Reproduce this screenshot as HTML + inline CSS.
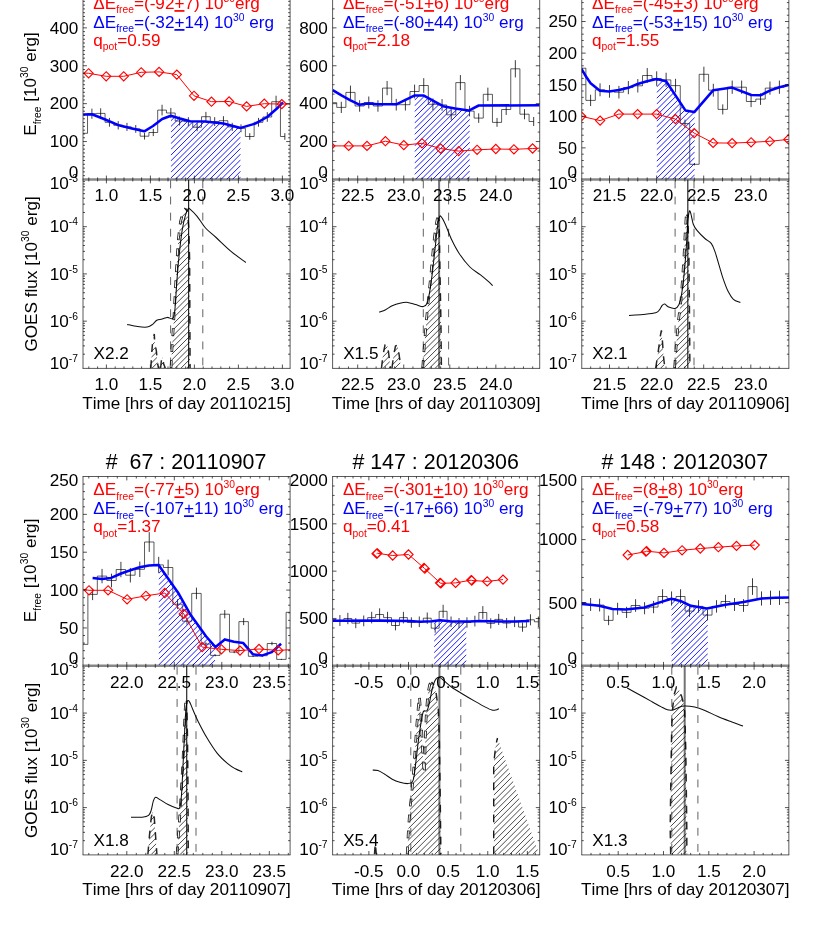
<!DOCTYPE html>
<html><head><meta charset="utf-8"><title>Free energy evolution</title>
<style>html,body{margin:0;padding:0;background:#fff}svg{display:block;will-change:transform}text{font-family:"Liberation Sans",sans-serif;font-kerning:none}</style>
</head><body>
<svg width="830" height="943" viewBox="0 0 830 943" font-family='"Liberation Sans", sans-serif'>
<rect width="830" height="943" fill="#fff"/>
<clipPath id="p1"><rect x="83" y="-10.05" width="207.1" height="189.5"/></clipPath>
<g clip-path="url(#p1)">
<path d="M83 133.3L83 133.3L87.52 133.3L87.52 113.7L96.28 113.7L96.28 113.4L105.06 113.4L105.06 122.3L113.83 122.3L113.83 125.3L122.59 125.3L122.59 126.9L131.37 126.9L131.37 128.9L140.13 128.9L140.13 136.2L148.91 136.2L148.91 132.5L157.68 132.5L157.68 110.1L166.44 110.1L166.44 113L175.21 113L175.21 121L183.99 121L183.99 121.6L192.75 121.6L192.75 127.2L201.52 127.2L201.52 116.7L210.3 116.7L210.3 121.6L219.06 121.6L219.06 120.7L227.83 120.7L227.83 126.9L236.61 126.9L236.61 128.3L245.38 128.3L245.38 136.5L254.14 136.5L254.14 122.3L262.91 122.3L262.91 117L271.69 117L271.69 101.7L280.45 101.7L280.45 136.5L284.84 136.5" fill="none" stroke="#000" stroke-width="0.8" stroke-opacity="0.8" stroke-linejoin="miter"/>
<path d="M91.9 108.64V118.76M100.67 108.31V118.49M109.44 117.9V126.7M118.21 121.13V129.47M126.98 122.85V130.95M135.75 125.01V132.79M144.52 132.87V139.53M153.29 128.88V136.12M162.06 104.76V115.44M170.83 107.88V118.12M179.6 116.5V125.5M188.37 117.15V126.05M197.14 123.18V131.22M205.91 111.87V121.53M214.68 117.15V126.05M223.45 116.18V125.22M232.22 122.85V130.95M240.99 124.36V132.24M249.76 133.19V139.81M258.53 117.9V126.7M267.3 112.19V121.81M276.07 95.71V107.69M284.84 133.19V139.81" fill="none" stroke="#000" stroke-width="0.9" stroke-opacity="0.85"/>
<clipPath id="c2"><polygon points="170.8,179.45 170.8,115.7 180,118.5 190,121.2 204.9,121.4 223.4,123.6 240.7,127.9 240.7,179.45"/></clipPath>
<path clip-path="url(#c2)" d="M170.8 115.2L240.7 45.3M170.8 120.92L240.7 51.02M170.8 126.64L240.7 56.74M170.8 132.36L240.7 62.46M170.8 138.08L240.7 68.18M170.8 143.8L240.7 73.9M170.8 149.52L240.7 79.62M170.8 155.24L240.7 85.34M170.8 160.96L240.7 91.06M170.8 166.68L240.7 96.78M170.8 172.4L240.7 102.5M170.8 178.12L240.7 108.22M170.8 183.84L240.7 113.94M170.8 189.56L240.7 119.66M170.8 195.28L240.7 125.38M170.8 201L240.7 131.1M170.8 206.72L240.7 136.82M170.8 212.44L240.7 142.54M170.8 218.16L240.7 148.26M170.8 223.88L240.7 153.98M170.8 229.6L240.7 159.7M170.8 235.32L240.7 165.42M170.8 241.04L240.7 171.14M170.8 246.76L240.7 176.86M170.8 252.48L240.7 182.58" stroke="#0000ff" stroke-width="0.95" stroke-opacity="0.95" fill="none"/>
<path d="M83.3 114.6L91.9 114.3L104 119L117.8 124.9L131 128.2L144.3 131.3L153 126L162.2 119L170.8 115.7L180 118.5L190 121.2L204.9 121.4L223.4 123.6L240.7 127.9L255.2 123.6L267.2 117L277.8 107.7L283.1 102.4" fill="none" stroke="#0000ff" stroke-width="2.55" stroke-linejoin="round" stroke-linecap="butt"/>
<path d="M83.3 73L88.6 73.3L106.2 76.3L123.7 76.3L141.2 72.3L159.1 71.9L176.8 74.6L194 95.8L211.5 101.7L229.1 101.5L246.6 106.4L264.3 103.7L281.8 104.1L290.3 104.1" fill="none" stroke="#ff0000" stroke-width="1.0"/>
<path d="M84 73.3L88.6 68.7L93.2 73.3L88.6 77.9ZM101.6 76.3L106.2 71.7L110.8 76.3L106.2 80.9ZM119.1 76.3L123.7 71.7L128.3 76.3L123.7 80.9ZM136.6 72.3L141.2 67.7L145.8 72.3L141.2 76.9ZM154.5 71.9L159.1 67.3L163.7 71.9L159.1 76.5ZM172.2 74.6L176.8 70L181.4 74.6L176.8 79.2ZM189.4 95.8L194 91.2L198.6 95.8L194 100.4ZM206.9 101.7L211.5 97.1L216.1 101.7L211.5 106.3ZM224.5 101.5L229.1 96.9L233.7 101.5L229.1 106.1ZM242 106.4L246.6 101.8L251.2 106.4L246.6 111ZM259.7 103.7L264.3 99.1L268.9 103.7L264.3 108.3ZM277.2 104.1L281.8 99.5L286.4 104.1L281.8 108.7Z" fill="none" stroke="#ff0000" stroke-width="1.15"/>
</g>
<clipPath id="p3"><rect x="83" y="179.45" width="207.1" height="188.95"/></clipPath>
<g clip-path="url(#p3)">
<clipPath id="c4"><polygon points="171,368 172.2,344.6 173.6,323.4 174.7,302.2 175.8,281 177,259.8 178.4,238.6 180.5,221.6 183.4,211 185.6,208.4 187.5,212.2 188.8,228 189.6,259.8 190.1,368"/></clipPath>
<path clip-path="url(#c4)" d="M171 204.7L190.1 185.6M171 210.48L190.1 191.38M171 216.26L190.1 197.16M171 222.04L190.1 202.94M171 227.82L190.1 208.72M171 233.6L190.1 214.5M171 239.38L190.1 220.28M171 245.16L190.1 226.06M171 250.94L190.1 231.84M171 256.72L190.1 237.62M171 262.5L190.1 243.4M171 268.28L190.1 249.18M171 274.06L190.1 254.96M171 279.84L190.1 260.74M171 285.62L190.1 266.52M171 291.4L190.1 272.3M171 297.18L190.1 278.08M171 302.96L190.1 283.86M171 308.74L190.1 289.64M171 314.52L190.1 295.42M171 320.3L190.1 301.2M171 326.08L190.1 306.98M171 331.86L190.1 312.76M171 337.64L190.1 318.54M171 343.42L190.1 324.32M171 349.2L190.1 330.1M171 354.98L190.1 335.88M171 360.76L190.1 341.66M171 366.54L190.1 347.44M171 372.32L190.1 353.22M171 378.1L190.1 359M171 383.88L190.1 364.78M171 389.66L190.1 370.56" stroke="#000" stroke-width="0.8" stroke-opacity="0.9" fill="none"/>
<path d="M171 368L172.2 344.6L173.6 323.4L174.7 302.2L175.8 281L177 259.8L178.4 238.6L180.5 221.6L183.4 211L185.6 208.4" fill="none" stroke="#000" stroke-width="2.7" stroke-opacity="0.88" stroke-dasharray="7.8 8.2"/>
<path d="M171 368L172.2 344.6L173.6 323.4L174.7 302.2L175.8 281L177 259.8L178.4 238.6L180.5 221.6L183.4 211L185.6 208.4" fill="none" stroke="#fff" stroke-width="1.0" stroke-dasharray="6.2 9.8" stroke-dashoffset="-0.8"/>
<path d="M185.6 208.4L187.5 212.2L188.8 228L189.6 259.8L190.1 368" fill="none" stroke="#000" stroke-width="1.5" stroke-opacity="0.85" stroke-dasharray="7.8 8.2" stroke-dashoffset="4"/>
<clipPath id="c5"><polygon points="150.9,368 151.5,355.2 152.6,342.5 154.3,334 154.7,342.5 156.4,351 157.2,361.5 158.5,368"/></clipPath>
<path clip-path="url(#c5)" d="M150.9 328.84L158.5 321.24M150.9 334.62L158.5 327.02M150.9 340.4L158.5 332.8M150.9 346.18L158.5 338.58M150.9 351.96L158.5 344.36M150.9 357.74L158.5 350.14M150.9 363.52L158.5 355.92M150.9 369.3L158.5 361.7M150.9 375.08L158.5 367.48M150.9 380.86L158.5 373.26" stroke="#000" stroke-width="0.8" stroke-opacity="0.9" fill="none"/>
<path d="M150.9 368L151.5 355.2L152.6 342.5L154.3 334L154.7 342.5L156.4 351L157.2 361.5L158.5 368" fill="none" stroke="#000" stroke-width="1.5" stroke-opacity="0.85" stroke-dasharray="7.8 8.2"/>
<clipPath id="c6"><polygon points="160.6,368 161.5,359.4 162.7,357.3 163.6,363.7 165.3,368"/></clipPath>
<path clip-path="url(#c6)" d="M160.6 353.82L165.3 349.12M160.6 359.6L165.3 354.9M160.6 365.38L165.3 360.68M160.6 371.16L165.3 366.46M160.6 376.94L165.3 372.24" stroke="#000" stroke-width="0.8" stroke-opacity="0.9" fill="none"/>
<path d="M160.6 368L161.5 359.4L162.7 357.3L163.6 363.7L165.3 368" fill="none" stroke="#000" stroke-width="1.5" stroke-opacity="0.85" stroke-dasharray="7.8 8.2"/>
<path d="M170.6 180.45V368.4" stroke="#000" stroke-opacity="0.62" stroke-width="1.0" stroke-dasharray="7.9 8.2" fill="none"/>
<path d="M202.8 180.45V368.4" stroke="#000" stroke-opacity="0.62" stroke-width="1.0" stroke-dasharray="7.9 8.2" fill="none"/>
<path d="M188.6 179.45V368.4" stroke="#000" stroke-opacity="0.85" stroke-width="1.2" fill="none"/>
<path d="M127.1 324.4C128.87 324.77 134.33 326.17 137.7 326.6C141.07 327.03 144.82 327.37 147.3 327C149.78 326.63 151.02 325.53 152.6 324.4C154.18 323.27 155.22 321.08 156.8 320.2C158.38 319.32 160.33 319.57 162.1 319.1C163.87 318.63 165.63 317.5 167.4 317.4C169.17 317.3 171.47 319.62 172.7 318.5C173.93 317.38 174.1 316.95 174.8 310.7C175.5 304.45 176.18 290.2 176.9 281C177.62 271.8 178.22 263.98 179.1 255.5C179.98 247.02 181.15 236.8 182.2 230.1C183.25 223.4 184.4 218.83 185.4 215.3C186.4 211.77 187.48 209.97 188.2 208.9C188.92 207.83 188.22 207.67 189.7 208.9C191.18 210.13 194.47 213.12 197.1 216.3C199.73 219.48 202.33 224.47 205.5 228C208.67 231.53 211.85 233.62 216.1 237.5C220.35 241.38 226.05 247.13 231 251.3C235.95 255.47 243.33 260.63 245.8 262.5" fill="none" stroke="#000" stroke-width="1.05" stroke-opacity="0.95"/>
</g>
<path d="M83 -10.05V179.45M290.1 -10.05V179.45M82.6 -10.05H290.5" fill="none" stroke="#000" stroke-width="0.9" stroke-opacity="0.72"/>
<path d="M106.4 179.45v-3.9M106.4 -10.05v3.9M150.4 179.45v-3.9M150.4 -10.05v3.9M194.4 179.45v-3.9M194.4 -10.05v3.9M238.4 179.45v-3.9M238.4 -10.05v3.9M282.4 179.45v-3.9M282.4 -10.05v3.9M88.8 179.45v-2M88.8 -10.05v2M97.6 179.45v-2M97.6 -10.05v2M115.2 179.45v-2M115.2 -10.05v2M124 179.45v-2M124 -10.05v2M132.8 179.45v-2M132.8 -10.05v2M141.6 179.45v-2M141.6 -10.05v2M159.2 179.45v-2M159.2 -10.05v2M168 179.45v-2M168 -10.05v2M176.8 179.45v-2M176.8 -10.05v2M185.6 179.45v-2M185.6 -10.05v2M203.2 179.45v-2M203.2 -10.05v2M212 179.45v-2M212 -10.05v2M220.8 179.45v-2M220.8 -10.05v2M229.6 179.45v-2M229.6 -10.05v2M247.2 179.45v-2M247.2 -10.05v2M256 179.45v-2M256 -10.05v2M264.8 179.45v-2M264.8 -10.05v2M273.6 179.45v-2M273.6 -10.05v2M83 141.55h3.9M290.1 141.55h-3.9M83 103.65h3.9M290.1 103.65h-3.9M83 65.75h3.9M290.1 65.75h-3.9M83 27.85h3.9M290.1 27.85h-3.9M83 175.66h2M290.1 175.66h-2M83 171.87h2M290.1 171.87h-2M83 168.08h2M290.1 168.08h-2M83 164.29h2M290.1 164.29h-2M83 160.5h2M290.1 160.5h-2M83 156.71h2M290.1 156.71h-2M83 152.92h2M290.1 152.92h-2M83 149.13h2M290.1 149.13h-2M83 145.34h2M290.1 145.34h-2M83 137.76h2M290.1 137.76h-2M83 133.97h2M290.1 133.97h-2M83 130.18h2M290.1 130.18h-2M83 126.39h2M290.1 126.39h-2M83 122.6h2M290.1 122.6h-2M83 118.81h2M290.1 118.81h-2M83 115.02h2M290.1 115.02h-2M83 111.23h2M290.1 111.23h-2M83 107.44h2M290.1 107.44h-2M83 99.86h2M290.1 99.86h-2M83 96.07h2M290.1 96.07h-2M83 92.28h2M290.1 92.28h-2M83 88.49h2M290.1 88.49h-2M83 84.7h2M290.1 84.7h-2M83 80.91h2M290.1 80.91h-2M83 77.12h2M290.1 77.12h-2M83 73.33h2M290.1 73.33h-2M83 69.54h2M290.1 69.54h-2M83 61.96h2M290.1 61.96h-2M83 58.17h2M290.1 58.17h-2M83 54.38h2M290.1 54.38h-2M83 50.59h2M290.1 50.59h-2M83 46.8h2M290.1 46.8h-2M83 43.01h2M290.1 43.01h-2M83 39.22h2M290.1 39.22h-2M83 35.43h2M290.1 35.43h-2M83 31.64h2M290.1 31.64h-2M83 24.06h2M290.1 24.06h-2M83 20.27h2M290.1 20.27h-2M83 16.48h2M290.1 16.48h-2M83 12.69h2M290.1 12.69h-2M83 8.9h2M290.1 8.9h-2M83 5.11h2M290.1 5.11h-2M83 1.32h2M290.1 1.32h-2M83 -2.47h2M290.1 -2.47h-2M83 -6.26h2M290.1 -6.26h-2" stroke="#000" stroke-width="0.85" stroke-opacity="0.8" fill="none"/>
<path d="M83 179.45V368.4M290.1 179.45V368.4M82.6 368.4H290.5" fill="none" stroke="#000" stroke-width="0.9" stroke-opacity="0.72"/>
<path d="M106.4 368.4v-3.9M106.4 179.45v3.9M150.4 368.4v-3.9M150.4 179.45v3.9M194.4 368.4v-3.9M194.4 179.45v3.9M238.4 368.4v-3.9M238.4 179.45v3.9M282.4 368.4v-3.9M282.4 179.45v3.9M88.8 368.4v-2M88.8 179.45v2M97.6 368.4v-2M97.6 179.45v2M115.2 368.4v-2M115.2 179.45v2M124 368.4v-2M124 179.45v2M132.8 368.4v-2M132.8 179.45v2M141.6 368.4v-2M141.6 179.45v2M159.2 368.4v-2M159.2 179.45v2M168 368.4v-2M168 179.45v2M176.8 368.4v-2M176.8 179.45v2M185.6 368.4v-2M185.6 179.45v2M203.2 368.4v-2M203.2 179.45v2M212 368.4v-2M212 179.45v2M220.8 368.4v-2M220.8 179.45v2M229.6 368.4v-2M229.6 179.45v2M247.2 368.4v-2M247.2 179.45v2M256 368.4v-2M256 179.45v2M264.8 368.4v-2M264.8 179.45v2M273.6 368.4v-2M273.6 179.45v2M83 226.69h3.9M290.1 226.69h-3.9M83 273.92h3.9M290.1 273.92h-3.9M83 321.16h3.9M290.1 321.16h-3.9M83 354.18h2M290.1 354.18h-2M83 345.86h2M290.1 345.86h-2M83 339.96h2M290.1 339.96h-2M83 335.38h2M290.1 335.38h-2M83 331.64h2M290.1 331.64h-2M83 328.48h2M290.1 328.48h-2M83 325.74h2M290.1 325.74h-2M83 323.32h2M290.1 323.32h-2M83 306.94h2M290.1 306.94h-2M83 298.62h2M290.1 298.62h-2M83 292.72h2M290.1 292.72h-2M83 288.14h2M290.1 288.14h-2M83 284.4h2M290.1 284.4h-2M83 281.24h2M290.1 281.24h-2M83 278.5h2M290.1 278.5h-2M83 276.09h2M290.1 276.09h-2M83 259.71h2M290.1 259.71h-2M83 251.39h2M290.1 251.39h-2M83 245.49h2M290.1 245.49h-2M83 240.91h2M290.1 240.91h-2M83 237.17h2M290.1 237.17h-2M83 234h2M290.1 234h-2M83 231.27h2M290.1 231.27h-2M83 228.85h2M290.1 228.85h-2M83 212.47h2M290.1 212.47h-2M83 204.15h2M290.1 204.15h-2M83 198.25h2M290.1 198.25h-2M83 193.67h2M290.1 193.67h-2M83 189.93h2M290.1 189.93h-2M83 186.77h2M290.1 186.77h-2M83 184.03h2M290.1 184.03h-2M83 181.61h2M290.1 181.61h-2" stroke="#000" stroke-width="0.85" stroke-opacity="0.8" fill="none"/>
<path d="M82.5 179.45H290.6" stroke="#000" stroke-opacity="0.47" stroke-width="2.5" fill="none"/>
<text x="106.4" y="201.45" font-size="17.15" text-anchor="middle" fill="#000" >1.0</text>
<text x="106.4" y="390.1" font-size="17.15" text-anchor="middle" fill="#000" >1.0</text>
<text x="150.4" y="201.45" font-size="17.15" text-anchor="middle" fill="#000" >1.5</text>
<text x="150.4" y="390.1" font-size="17.15" text-anchor="middle" fill="#000" >1.5</text>
<text x="194.4" y="201.45" font-size="17.15" text-anchor="middle" fill="#000" >2.0</text>
<text x="194.4" y="390.1" font-size="17.15" text-anchor="middle" fill="#000" >2.0</text>
<text x="238.4" y="201.45" font-size="17.15" text-anchor="middle" fill="#000" >2.5</text>
<text x="238.4" y="390.1" font-size="17.15" text-anchor="middle" fill="#000" >2.5</text>
<text x="282.4" y="201.45" font-size="17.15" text-anchor="middle" fill="#000" >3.0</text>
<text x="282.4" y="390.1" font-size="17.15" text-anchor="middle" fill="#000" >3.0</text>
<text x="186.55" y="408.7" font-size="17.15" text-anchor="middle" fill="#000" >Time [hrs of day 20110215]</text>
<text x="78.3" y="178.05" font-size="17.15" text-anchor="end" fill="#000" >0</text>
<text x="78.3" y="147.35" font-size="17.15" text-anchor="end" fill="#000" >100</text>
<text x="78.3" y="109.45" font-size="17.15" text-anchor="end" fill="#000" >200</text>
<text x="78.3" y="71.55" font-size="17.15" text-anchor="end" fill="#000" >300</text>
<text x="78.3" y="33.65" font-size="17.15" text-anchor="end" fill="#000" >400</text>
<text x="78.3" y="0.3" font-size="17.15" text-anchor="end" fill="#000" >500</text>
<text x="78" y="188.85" font-size="17.15" text-anchor="end">10<tspan dy="-7.0" font-size="10.3">-3</tspan></text>
<text x="78" y="232.29" font-size="17.15" text-anchor="end">10<tspan dy="-7.0" font-size="10.3">-4</tspan></text>
<text x="78" y="279.52" font-size="17.15" text-anchor="end">10<tspan dy="-7.0" font-size="10.3">-5</tspan></text>
<text x="78" y="326.76" font-size="17.15" text-anchor="end">10<tspan dy="-7.0" font-size="10.3">-6</tspan></text>
<text x="78" y="368.7" font-size="17.15" text-anchor="end">10<tspan dy="-7.0" font-size="10.3">-7</tspan></text>
<text x="93.3" y="9.05" font-size="17.15" text-anchor="start" fill="#ff0000" >&#916;E<tspan dy="4.3" font-size="10.3">free</tspan><tspan dy="-4.3" font-size="1">&#8203;</tspan>=(-92<tspan text-decoration="underline">+</tspan>7) 10<tspan dy="-7.3" font-size="10.3">30</tspan><tspan dy="7.3" font-size="1">&#8203;</tspan>erg</text>
<text x="93.3" y="28.05" font-size="17.15" text-anchor="start" fill="#0000ff" >&#916;E<tspan dy="4.3" font-size="10.3">free</tspan><tspan dy="-4.3" font-size="1">&#8203;</tspan>=(-32<tspan text-decoration="underline">+</tspan>14) 10<tspan dy="-7.3" font-size="10.3">30</tspan><tspan dy="7.3" font-size="1">&#8203;</tspan> erg</text>
<text x="93.3" y="46.05" font-size="17.15" text-anchor="start" fill="#ff0000" >q<tspan dy="4.3" font-size="10.3">pot</tspan><tspan dy="-4.3" font-size="1">&#8203;</tspan>=0.59</text>
<text x="93.6" y="359.1" font-size="17.15" text-anchor="start" fill="#000" >X2.2</text>
<text transform="translate(36.3 83.9) rotate(-90)" font-size="17.15" text-anchor="middle">E<tspan dy="4.6" font-size="10.3">free</tspan><tspan dy="-4.6"> [10</tspan><tspan dy="-8.5" font-size="10.3">30</tspan><tspan dy="8.5"> erg]</tspan></text>
<text transform="translate(37.4 273.92) rotate(-90)" font-size="17.15" text-anchor="middle">GOES flux [10<tspan dy="-8.5" font-size="10.3">30</tspan><tspan dy="8.5"> erg]</tspan></text>
<clipPath id="p7"><rect x="332.6" y="-10.05" width="207.1" height="189.5"/></clipPath>
<g clip-path="url(#p7)">
<path d="M332.6 102.7L332.6 102.7L336.72 102.7L336.72 107.4L345.88 107.4L345.88 92.4L355.04 92.4L355.04 106L364.2 106L364.2 102.5L373.36 102.5L373.36 106L382.52 106L382.52 88.1L391.68 88.1L391.68 104.7L400.84 104.7L400.84 104.7L410 104.7L410 91.5L419.16 91.5L419.16 85.5L428.32 85.5L428.32 104.3L437.48 104.3L437.48 104.9L446.64 104.9L446.64 114.8L455.8 114.8L455.8 82.6L464.96 82.6L464.96 111.1L474.12 111.1L474.12 118.1L483.28 118.1L483.28 94.3L492.44 94.3L492.44 122.4L501.6 122.4L501.6 109.5L510.76 109.5L510.76 68.8L519.92 68.8L519.92 114.2L529.08 114.2L529.08 121.5L533.66 121.5" fill="none" stroke="#000" stroke-width="0.8" stroke-opacity="0.8" stroke-linejoin="miter"/>
<path d="M341.3 101.78V113.02M350.46 85.61V99.19M359.62 100.27V111.73M368.78 96.5V108.5M377.94 100.27V111.73M387.1 80.97V95.23M396.26 98.87V110.53M405.42 98.87V110.53M414.58 84.64V98.36M423.74 78.17V92.83M432.9 98.44V110.16M442.06 99.09V110.71M451.22 109.76V119.84M460.38 75.05V90.15M469.54 105.77V116.43M478.7 113.31V122.89M487.86 87.66V100.94M497.02 117.95V126.85M506.18 104.04V114.96M515.34 60.17V77.43M524.5 109.11V119.29M533.66 116.98V126.02" fill="none" stroke="#000" stroke-width="0.9" stroke-opacity="0.85"/>
<clipPath id="c8"><polygon points="414.5,179.45 414.5,95.55 414.8,95.4 423.4,95.4 432,100.2 443,106.2 455,108.6 468.8,110.6 469.9,110.03 469.9,179.45"/></clipPath>
<path clip-path="url(#c8)" d="M414.5 94.58L469.9 39.18M414.5 100.3L469.9 44.9M414.5 106.02L469.9 50.62M414.5 111.74L469.9 56.34M414.5 117.46L469.9 62.06M414.5 123.18L469.9 67.78M414.5 128.9L469.9 73.5M414.5 134.62L469.9 79.22M414.5 140.34L469.9 84.94M414.5 146.06L469.9 90.66M414.5 151.78L469.9 96.38M414.5 157.5L469.9 102.1M414.5 163.22L469.9 107.82M414.5 168.94L469.9 113.54M414.5 174.66L469.9 119.26M414.5 180.38L469.9 124.98M414.5 186.1L469.9 130.7M414.5 191.82L469.9 136.42M414.5 197.54L469.9 142.14M414.5 203.26L469.9 147.86M414.5 208.98L469.9 153.58M414.5 214.7L469.9 159.3M414.5 220.42L469.9 165.02M414.5 226.14L469.9 170.74M414.5 231.86L469.9 176.46M414.5 237.58L469.9 182.18" stroke="#0000ff" stroke-width="0.95" stroke-opacity="0.95" fill="none"/>
<path d="M332.7 90.1L341.9 95.7L350 100.2L359.2 104.7L368.4 103.4L377.7 104.3L396.3 104.3L405 100.2L414.8 95.4L423.4 95.4L432 100.2L443 106.2L455 108.6L468.8 110.6L478.7 105.5L539.6 105.3" fill="none" stroke="#0000ff" stroke-width="2.55" stroke-linejoin="round" stroke-linecap="butt"/>
<path d="M330.3 145.9L348.7 145.9L367 145.9L385.4 141.2L403.8 145.1L422 143.3L440.6 148.5L458.7 151.1L477.1 149.8L495.8 149L513.9 149.3L532.6 148.5L539.5 148.2" fill="none" stroke="#ff0000" stroke-width="1.0"/>
<path d="M325.7 145.9L330.3 141.3L334.9 145.9L330.3 150.5ZM344.1 145.9L348.7 141.3L353.3 145.9L348.7 150.5ZM362.4 145.9L367 141.3L371.6 145.9L367 150.5ZM380.8 141.2L385.4 136.6L390 141.2L385.4 145.8ZM399.2 145.1L403.8 140.5L408.4 145.1L403.8 149.7ZM417.4 143.3L422 138.7L426.6 143.3L422 147.9ZM436 148.5L440.6 143.9L445.2 148.5L440.6 153.1ZM454.1 151.1L458.7 146.5L463.3 151.1L458.7 155.7ZM472.5 149.8L477.1 145.2L481.7 149.8L477.1 154.4ZM491.2 149L495.8 144.4L500.4 149L495.8 153.6ZM509.3 149.3L513.9 144.7L518.5 149.3L513.9 153.9ZM528 148.5L532.6 143.9L537.2 148.5L532.6 153.1Z" fill="none" stroke="#ff0000" stroke-width="1.15"/>
</g>
<clipPath id="p9"><rect x="332.6" y="179.45" width="207.1" height="188.95"/></clipPath>
<g clip-path="url(#p9)">
<clipPath id="c10"><polygon points="422.7,368 424.5,343.4 426.4,320.1 428.4,299.3 431,273.4 433.6,244.9 435.7,226.8 437.5,217.7 439.1,220.3 440.1,278.6 440.9,320.1 441.4,368"/></clipPath>
<path clip-path="url(#c10)" d="M422.7 213.1L441.4 194.4M422.7 218.88L441.4 200.18M422.7 224.66L441.4 205.96M422.7 230.44L441.4 211.74M422.7 236.22L441.4 217.52M422.7 242L441.4 223.3M422.7 247.78L441.4 229.08M422.7 253.56L441.4 234.86M422.7 259.34L441.4 240.64M422.7 265.12L441.4 246.42M422.7 270.9L441.4 252.2M422.7 276.68L441.4 257.98M422.7 282.46L441.4 263.76M422.7 288.24L441.4 269.54M422.7 294.02L441.4 275.32M422.7 299.8L441.4 281.1M422.7 305.58L441.4 286.88M422.7 311.36L441.4 292.66M422.7 317.14L441.4 298.44M422.7 322.92L441.4 304.22M422.7 328.7L441.4 310M422.7 334.48L441.4 315.78M422.7 340.26L441.4 321.56M422.7 346.04L441.4 327.34M422.7 351.82L441.4 333.12M422.7 357.6L441.4 338.9M422.7 363.38L441.4 344.68M422.7 369.16L441.4 350.46M422.7 374.94L441.4 356.24M422.7 380.72L441.4 362.02M422.7 386.5L441.4 367.8M422.7 392.28L441.4 373.58" stroke="#000" stroke-width="0.8" stroke-opacity="0.9" fill="none"/>
<path d="M422.7 368L424.5 343.4L426.4 320.1L428.4 299.3L431 273.4L433.6 244.9L435.7 226.8L437.5 217.7" fill="none" stroke="#000" stroke-width="2.7" stroke-opacity="0.88" stroke-dasharray="7.8 8.2"/>
<path d="M422.7 368L424.5 343.4L426.4 320.1L428.4 299.3L431 273.4L433.6 244.9L435.7 226.8L437.5 217.7" fill="none" stroke="#fff" stroke-width="1.0" stroke-dasharray="6.2 9.8" stroke-dashoffset="-0.8"/>
<path d="M437.5 217.7L439.1 220.3L440.1 278.6L440.9 320.1L441.4 368" fill="none" stroke="#000" stroke-width="1.5" stroke-opacity="0.85" stroke-dasharray="7.8 8.2" stroke-dashoffset="4"/>
<clipPath id="c11"><polygon points="381.5,368 383,355 385,345 387,344 388.5,352 390.5,368"/></clipPath>
<path clip-path="url(#c11)" d="M381.5 341L390.5 332M381.5 346.78L390.5 337.78M381.5 352.56L390.5 343.56M381.5 358.34L390.5 349.34M381.5 364.12L390.5 355.12M381.5 369.9L390.5 360.9M381.5 375.68L390.5 366.68M381.5 381.46L390.5 372.46" stroke="#000" stroke-width="0.8" stroke-opacity="0.9" fill="none"/>
<path d="M381.5 368L383 355L385 345L387 344L388.5 352L390.5 368" fill="none" stroke="#000" stroke-width="1.5" stroke-opacity="0.85" stroke-dasharray="7.8 8.2"/>
<clipPath id="c12"><polygon points="392,368 393.5,356 395.5,346 397.5,345 399,354 401,368"/></clipPath>
<path clip-path="url(#c12)" d="M392 342.06L401 333.06M392 347.84L401 338.84M392 353.62L401 344.62M392 359.4L401 350.4M392 365.18L401 356.18M392 370.96L401 361.96M392 376.74L401 367.74M392 382.52L401 373.52" stroke="#000" stroke-width="0.8" stroke-opacity="0.9" fill="none"/>
<path d="M392 368L393.5 356L395.5 346L397.5 345L399 354L401 368" fill="none" stroke="#000" stroke-width="1.5" stroke-opacity="0.85" stroke-dasharray="7.8 8.2"/>
<path d="M423.3 180.45V368.4" stroke="#000" stroke-opacity="0.62" stroke-width="1.0" stroke-dasharray="7.9 8.2" fill="none"/>
<path d="M448.6 180.45V368.4" stroke="#000" stroke-opacity="0.62" stroke-width="1.0" stroke-dasharray="7.9 8.2" fill="none"/>
<path d="M439.1 179.45V368.4" stroke="#000" stroke-opacity="0.55" stroke-width="2.0" fill="none"/>
<path d="M379.2 312.3C380.28 311.87 383.53 310.78 385.7 309.7C387.87 308.62 389.83 306.88 392.2 305.8C394.57 304.72 397.32 303.77 399.9 303.2C402.48 302.63 405.1 302.18 407.7 302.4C410.3 302.62 412.9 303.8 415.5 304.5C418.1 305.2 421.37 306.82 423.3 306.6C425.23 306.38 426.03 305.7 427.1 303.2C428.17 300.7 428.83 296.57 429.7 291.6C430.57 286.63 431.43 280.32 432.3 273.4C433.17 266.48 434.03 257.87 434.9 250.1C435.77 242.33 436.77 232.2 437.5 226.8C438.23 221.4 438.73 219.43 439.3 217.7C439.87 215.97 439.9 215.32 440.9 216.4C441.9 217.48 443.5 220.3 445.3 224.2C447.1 228.1 449.33 234.83 451.7 239.8C454.07 244.77 456.47 249.47 459.5 254C462.53 258.53 466.45 263.55 469.9 267C473.35 270.45 477.18 272.33 480.2 274.7C483.22 277.07 485.92 279.38 488 281.2C490.08 283.02 491.92 284.87 492.7 285.6" fill="none" stroke="#000" stroke-width="1.05" stroke-opacity="0.95"/>
</g>
<path d="M332.6 -10.05V179.45M539.7 -10.05V179.45M332.2 -10.05H540.1" fill="none" stroke="#000" stroke-width="0.9" stroke-opacity="0.72"/>
<path d="M357.7 179.45v-3.9M357.7 -10.05v3.9M403.75 179.45v-3.9M403.75 -10.05v3.9M449.8 179.45v-3.9M449.8 -10.05v3.9M495.85 179.45v-3.9M495.85 -10.05v3.9M339.28 179.45v-2M339.28 -10.05v2M348.49 179.45v-2M348.49 -10.05v2M366.91 179.45v-2M366.91 -10.05v2M376.12 179.45v-2M376.12 -10.05v2M385.33 179.45v-2M385.33 -10.05v2M394.54 179.45v-2M394.54 -10.05v2M412.96 179.45v-2M412.96 -10.05v2M422.17 179.45v-2M422.17 -10.05v2M431.38 179.45v-2M431.38 -10.05v2M440.59 179.45v-2M440.59 -10.05v2M459.01 179.45v-2M459.01 -10.05v2M468.22 179.45v-2M468.22 -10.05v2M477.43 179.45v-2M477.43 -10.05v2M486.64 179.45v-2M486.64 -10.05v2M505.06 179.45v-2M505.06 -10.05v2M514.27 179.45v-2M514.27 -10.05v2M523.48 179.45v-2M523.48 -10.05v2M532.69 179.45v-2M532.69 -10.05v2M332.6 141.55h3.9M539.7 141.55h-3.9M332.6 103.65h3.9M539.7 103.65h-3.9M332.6 65.75h3.9M539.7 65.75h-3.9M332.6 27.85h3.9M539.7 27.85h-3.9M332.6 169.97h2M539.7 169.97h-2M332.6 160.5h2M539.7 160.5h-2M332.6 151.02h2M539.7 151.02h-2M332.6 132.07h2M539.7 132.07h-2M332.6 122.6h2M539.7 122.6h-2M332.6 113.12h2M539.7 113.12h-2M332.6 94.17h2M539.7 94.17h-2M332.6 84.7h2M539.7 84.7h-2M332.6 75.22h2M539.7 75.22h-2M332.6 56.27h2M539.7 56.27h-2M332.6 46.8h2M539.7 46.8h-2M332.6 37.32h2M539.7 37.32h-2M332.6 18.38h2M539.7 18.38h-2M332.6 8.9h2M539.7 8.9h-2M332.6 -0.58h2M539.7 -0.58h-2" stroke="#000" stroke-width="0.85" stroke-opacity="0.8" fill="none"/>
<path d="M332.6 179.45V368.4M539.7 179.45V368.4M332.2 368.4H540.1" fill="none" stroke="#000" stroke-width="0.9" stroke-opacity="0.72"/>
<path d="M357.7 368.4v-3.9M357.7 179.45v3.9M403.75 368.4v-3.9M403.75 179.45v3.9M449.8 368.4v-3.9M449.8 179.45v3.9M495.85 368.4v-3.9M495.85 179.45v3.9M339.28 368.4v-2M339.28 179.45v2M348.49 368.4v-2M348.49 179.45v2M366.91 368.4v-2M366.91 179.45v2M376.12 368.4v-2M376.12 179.45v2M385.33 368.4v-2M385.33 179.45v2M394.54 368.4v-2M394.54 179.45v2M412.96 368.4v-2M412.96 179.45v2M422.17 368.4v-2M422.17 179.45v2M431.38 368.4v-2M431.38 179.45v2M440.59 368.4v-2M440.59 179.45v2M459.01 368.4v-2M459.01 179.45v2M468.22 368.4v-2M468.22 179.45v2M477.43 368.4v-2M477.43 179.45v2M486.64 368.4v-2M486.64 179.45v2M505.06 368.4v-2M505.06 179.45v2M514.27 368.4v-2M514.27 179.45v2M523.48 368.4v-2M523.48 179.45v2M532.69 368.4v-2M532.69 179.45v2M332.6 226.69h3.9M539.7 226.69h-3.9M332.6 273.92h3.9M539.7 273.92h-3.9M332.6 321.16h3.9M539.7 321.16h-3.9M332.6 354.18h2M539.7 354.18h-2M332.6 345.86h2M539.7 345.86h-2M332.6 339.96h2M539.7 339.96h-2M332.6 335.38h2M539.7 335.38h-2M332.6 331.64h2M539.7 331.64h-2M332.6 328.48h2M539.7 328.48h-2M332.6 325.74h2M539.7 325.74h-2M332.6 323.32h2M539.7 323.32h-2M332.6 306.94h2M539.7 306.94h-2M332.6 298.62h2M539.7 298.62h-2M332.6 292.72h2M539.7 292.72h-2M332.6 288.14h2M539.7 288.14h-2M332.6 284.4h2M539.7 284.4h-2M332.6 281.24h2M539.7 281.24h-2M332.6 278.5h2M539.7 278.5h-2M332.6 276.09h2M539.7 276.09h-2M332.6 259.71h2M539.7 259.71h-2M332.6 251.39h2M539.7 251.39h-2M332.6 245.49h2M539.7 245.49h-2M332.6 240.91h2M539.7 240.91h-2M332.6 237.17h2M539.7 237.17h-2M332.6 234h2M539.7 234h-2M332.6 231.27h2M539.7 231.27h-2M332.6 228.85h2M539.7 228.85h-2M332.6 212.47h2M539.7 212.47h-2M332.6 204.15h2M539.7 204.15h-2M332.6 198.25h2M539.7 198.25h-2M332.6 193.67h2M539.7 193.67h-2M332.6 189.93h2M539.7 189.93h-2M332.6 186.77h2M539.7 186.77h-2M332.6 184.03h2M539.7 184.03h-2M332.6 181.61h2M539.7 181.61h-2" stroke="#000" stroke-width="0.85" stroke-opacity="0.8" fill="none"/>
<path d="M332.1 179.45H540.2" stroke="#000" stroke-opacity="0.47" stroke-width="2.5" fill="none"/>
<text x="357.7" y="201.45" font-size="17.15" text-anchor="middle" fill="#000" >22.5</text>
<text x="357.7" y="390.1" font-size="17.15" text-anchor="middle" fill="#000" >22.5</text>
<text x="403.75" y="201.45" font-size="17.15" text-anchor="middle" fill="#000" >23.0</text>
<text x="403.75" y="390.1" font-size="17.15" text-anchor="middle" fill="#000" >23.0</text>
<text x="449.8" y="201.45" font-size="17.15" text-anchor="middle" fill="#000" >23.5</text>
<text x="449.8" y="390.1" font-size="17.15" text-anchor="middle" fill="#000" >23.5</text>
<text x="495.85" y="201.45" font-size="17.15" text-anchor="middle" fill="#000" >24.0</text>
<text x="495.85" y="390.1" font-size="17.15" text-anchor="middle" fill="#000" >24.0</text>
<text x="436.15" y="408.7" font-size="17.15" text-anchor="middle" fill="#000" >Time [hrs of day 20110309]</text>
<text x="327.9" y="178.05" font-size="17.15" text-anchor="end" fill="#000" >0</text>
<text x="327.9" y="147.35" font-size="17.15" text-anchor="end" fill="#000" >200</text>
<text x="327.9" y="109.45" font-size="17.15" text-anchor="end" fill="#000" >400</text>
<text x="327.9" y="71.55" font-size="17.15" text-anchor="end" fill="#000" >600</text>
<text x="327.9" y="33.65" font-size="17.15" text-anchor="end" fill="#000" >800</text>
<text x="327.9" y="0.3" font-size="17.15" text-anchor="end" fill="#000" >1000</text>
<text x="327.6" y="188.85" font-size="17.15" text-anchor="end">10<tspan dy="-7.0" font-size="10.3">-3</tspan></text>
<text x="327.6" y="232.29" font-size="17.15" text-anchor="end">10<tspan dy="-7.0" font-size="10.3">-4</tspan></text>
<text x="327.6" y="279.52" font-size="17.15" text-anchor="end">10<tspan dy="-7.0" font-size="10.3">-5</tspan></text>
<text x="327.6" y="326.76" font-size="17.15" text-anchor="end">10<tspan dy="-7.0" font-size="10.3">-6</tspan></text>
<text x="327.6" y="368.7" font-size="17.15" text-anchor="end">10<tspan dy="-7.0" font-size="10.3">-7</tspan></text>
<text x="342.9" y="9.05" font-size="17.15" text-anchor="start" fill="#ff0000" >&#916;E<tspan dy="4.3" font-size="10.3">free</tspan><tspan dy="-4.3" font-size="1">&#8203;</tspan>=(-51<tspan text-decoration="underline">+</tspan>6) 10<tspan dy="-7.3" font-size="10.3">30</tspan><tspan dy="7.3" font-size="1">&#8203;</tspan>erg</text>
<text x="342.9" y="28.05" font-size="17.15" text-anchor="start" fill="#0000ff" >&#916;E<tspan dy="4.3" font-size="10.3">free</tspan><tspan dy="-4.3" font-size="1">&#8203;</tspan>=(-80<tspan text-decoration="underline">+</tspan>44) 10<tspan dy="-7.3" font-size="10.3">30</tspan><tspan dy="7.3" font-size="1">&#8203;</tspan> erg</text>
<text x="342.9" y="46.05" font-size="17.15" text-anchor="start" fill="#ff0000" >q<tspan dy="4.3" font-size="10.3">pot</tspan><tspan dy="-4.3" font-size="1">&#8203;</tspan>=2.18</text>
<text x="343.2" y="359.1" font-size="17.15" text-anchor="start" fill="#000" >X1.5</text>
<clipPath id="p13"><rect x="581.75" y="-10.05" width="207.1" height="189.5"/></clipPath>
<g clip-path="url(#p13)">
<path d="M581.75 68.2L581.75 68.2L585.88 68.2L585.88 100.4L595.32 100.4L595.32 89.8L604.76 89.8L604.76 91.4L614.2 91.4L614.2 92.2L623.64 92.2L623.64 87.6L633.08 87.6L633.08 85.8L642.52 85.8L642.52 75.5L651.96 75.5L651.96 78.6L661.4 78.6L661.4 79.9L670.84 79.9L670.84 85.6L680.28 85.6L680.28 123.6L689.72 123.6L689.72 164.3L699.16 164.3L699.16 74.3L708.6 74.3L708.6 90.2L718.04 90.2L718.04 109.4L727.48 109.4L727.48 87.2L736.92 87.2L736.92 87.2L746.36 87.2L746.36 101.5L755.8 101.5L755.8 99.1L765.24 99.1L765.24 88.1L774.68 88.1L774.68 87.2L784.12 87.2L784.12 85.5L788.85 85.5" fill="none" stroke="#000" stroke-width="0.8" stroke-opacity="0.8" stroke-linejoin="miter"/>
<path d="M590.6 94.71V106.09M600.04 83.35V96.25M609.48 85.06V97.74M618.92 85.92V98.48M628.36 80.99V94.21M637.8 79.06V92.54M647.24 68.02V82.98M656.68 71.34V85.86M666.12 72.73V87.07M675.56 78.84V92.36M685 119.58V127.62M694.44 163.21V165.39M703.88 66.73V81.87M713.32 83.77V96.63M722.76 104.36V114.44M732.2 80.56V93.84M741.64 80.56V93.84M751.08 95.89V107.11M760.52 93.31V104.89M769.96 81.52V94.68M779.4 80.56V93.84" fill="none" stroke="#000" stroke-width="0.9" stroke-opacity="0.85"/>
<clipPath id="c14"><polygon points="656.6,179.45 656.6,79 666.1,81.2 685.4,110.4 694.3,112.1 694.8,111.52 694.8,179.45"/></clipPath>
<path clip-path="url(#c14)" d="M656.6 75.56L694.8 37.36M656.6 81.28L694.8 43.08M656.6 87L694.8 48.8M656.6 92.72L694.8 54.52M656.6 98.44L694.8 60.24M656.6 104.16L694.8 65.96M656.6 109.88L694.8 71.68M656.6 115.6L694.8 77.4M656.6 121.32L694.8 83.12M656.6 127.04L694.8 88.84M656.6 132.76L694.8 94.56M656.6 138.48L694.8 100.28M656.6 144.2L694.8 106M656.6 149.92L694.8 111.72M656.6 155.64L694.8 117.44M656.6 161.36L694.8 123.16M656.6 167.08L694.8 128.88M656.6 172.8L694.8 134.6M656.6 178.52L694.8 140.32M656.6 184.24L694.8 146.04M656.6 189.96L694.8 151.76M656.6 195.68L694.8 157.48M656.6 201.4L694.8 163.2M656.6 207.12L694.8 168.92M656.6 212.84L694.8 174.64M656.6 218.56L694.8 180.36" stroke="#0000ff" stroke-width="0.95" stroke-opacity="0.95" fill="none"/>
<path d="M581.3 68.6L586 76.5L590.6 83.2L599.9 90.7L609.1 91.4L618.8 89.9L628.4 87.8L637.6 83.9L647 81.2L656.6 79L666.1 81.2L685.4 110.4L694.3 112.1L713.3 90.2L732 87.6L751.3 95L760.5 95.3L769.8 90.6L779.4 87.2L788.6 85" fill="none" stroke="#0000ff" stroke-width="2.55" stroke-linejoin="round" stroke-linecap="butt"/>
<path d="M581.3 116.3L600.1 120.6L618.8 114.1L637.6 114.1L656.6 114.1L675.4 119.1L694.2 133.1L713.1 142.9L732.1 143.1L751.1 142.3L769.8 141.3L788.4 139.4" fill="none" stroke="#ff0000" stroke-width="1.0"/>
<path d="M576.7 116.3L581.3 111.7L585.9 116.3L581.3 120.9ZM595.5 120.6L600.1 116L604.7 120.6L600.1 125.2ZM614.2 114.1L618.8 109.5L623.4 114.1L618.8 118.7ZM633 114.1L637.6 109.5L642.2 114.1L637.6 118.7ZM652 114.1L656.6 109.5L661.2 114.1L656.6 118.7ZM670.8 119.1L675.4 114.5L680 119.1L675.4 123.7ZM689.6 133.1L694.2 128.5L698.8 133.1L694.2 137.7ZM708.5 142.9L713.1 138.3L717.7 142.9L713.1 147.5ZM727.5 143.1L732.1 138.5L736.7 143.1L732.1 147.7ZM746.5 142.3L751.1 137.7L755.7 142.3L751.1 146.9ZM765.2 141.3L769.8 136.7L774.4 141.3L769.8 145.9ZM783.8 139.4L788.4 134.8L793 139.4L788.4 144Z" fill="none" stroke="#ff0000" stroke-width="1.15"/>
</g>
<clipPath id="p15"><rect x="581.75" y="179.45" width="207.1" height="188.95"/></clipPath>
<g clip-path="url(#p15)">
<clipPath id="c16"><polygon points="674.6,368 676.4,343.4 678.5,320.1 681.1,299.3 682.9,273.4 684.2,252.7 685.2,232 686.3,215.2 687.8,215.2 688.9,252.7 689.4,304.5 689.9,368"/></clipPath>
<path clip-path="url(#c16)" d="M674.6 209.74L689.9 194.44M674.6 215.52L689.9 200.22M674.6 221.3L689.9 206M674.6 227.08L689.9 211.78M674.6 232.86L689.9 217.56M674.6 238.64L689.9 223.34M674.6 244.42L689.9 229.12M674.6 250.2L689.9 234.9M674.6 255.98L689.9 240.68M674.6 261.76L689.9 246.46M674.6 267.54L689.9 252.24M674.6 273.32L689.9 258.02M674.6 279.1L689.9 263.8M674.6 284.88L689.9 269.58M674.6 290.66L689.9 275.36M674.6 296.44L689.9 281.14M674.6 302.22L689.9 286.92M674.6 308L689.9 292.7M674.6 313.78L689.9 298.48M674.6 319.56L689.9 304.26M674.6 325.34L689.9 310.04M674.6 331.12L689.9 315.82M674.6 336.9L689.9 321.6M674.6 342.68L689.9 327.38M674.6 348.46L689.9 333.16M674.6 354.24L689.9 338.94M674.6 360.02L689.9 344.72M674.6 365.8L689.9 350.5M674.6 371.58L689.9 356.28M674.6 377.36L689.9 362.06M674.6 383.14L689.9 367.84M674.6 388.92L689.9 373.62" stroke="#000" stroke-width="0.8" stroke-opacity="0.9" fill="none"/>
<path d="M674.6 368L676.4 343.4L678.5 320.1L681.1 299.3L682.9 273.4L684.2 252.7L685.2 232L686.3 215.2" fill="none" stroke="#000" stroke-width="2.7" stroke-opacity="0.88" stroke-dasharray="7.8 8.2"/>
<path d="M674.6 368L676.4 343.4L678.5 320.1L681.1 299.3L682.9 273.4L684.2 252.7L685.2 232L686.3 215.2" fill="none" stroke="#fff" stroke-width="1.0" stroke-dasharray="6.2 9.8" stroke-dashoffset="-0.8"/>
<path d="M686.3 215.2L687.8 215.2L688.9 252.7L689.4 304.5L689.9 368" fill="none" stroke="#000" stroke-width="1.5" stroke-opacity="0.85" stroke-dasharray="7.8 8.2" stroke-dashoffset="4"/>
<clipPath id="c17"><polygon points="655.7,368 658.3,351.1 660.4,335.6 661.4,330.4 662.4,340.8 663.5,356.3 664.8,368"/></clipPath>
<path clip-path="url(#c17)" d="M655.7 326.9L664.8 317.8M655.7 332.68L664.8 323.58M655.7 338.46L664.8 329.36M655.7 344.24L664.8 335.14M655.7 350.02L664.8 340.92M655.7 355.8L664.8 346.7M655.7 361.58L664.8 352.48M655.7 367.36L664.8 358.26M655.7 373.14L664.8 364.04M655.7 378.92L664.8 369.82" stroke="#000" stroke-width="0.8" stroke-opacity="0.9" fill="none"/>
<path d="M655.7 368L658.3 351.1L660.4 335.6L661.4 330.4L662.4 340.8L663.5 356.3L664.8 368" fill="none" stroke="#000" stroke-width="1.5" stroke-opacity="0.85" stroke-dasharray="7.8 8.2"/>
<path d="M675.1 180.45V368.4" stroke="#000" stroke-opacity="0.62" stroke-width="1.0" stroke-dasharray="7.9 8.2" fill="none"/>
<path d="M694 180.45V368.4" stroke="#000" stroke-opacity="0.62" stroke-width="1.0" stroke-dasharray="7.9 8.2" fill="none"/>
<path d="M687.8 179.45V368.4" stroke="#000" stroke-opacity="0.85" stroke-width="1.2" fill="none"/>
<path d="M629 315.4C631.3 315.23 638.35 314.83 642.8 314.4C647.25 313.97 652.9 313.58 655.7 312.8C658.5 312.02 658.52 310.95 659.6 309.7C660.68 308.45 661.33 306.25 662.2 305.3C663.07 304.35 663.72 303.7 664.8 304C665.88 304.3 666.98 306.37 668.7 307.1C670.42 307.83 673.38 308.83 675.1 308.4C676.82 307.97 677.92 306.87 679 304.5C680.08 302.13 680.73 299.38 681.6 294.2C682.47 289.02 683.42 281.18 684.2 273.4C684.98 265.62 685.7 256.13 686.3 247.5C686.9 238.87 687.28 227.63 687.8 221.6C688.32 215.57 688.88 212.58 689.4 211.3C689.92 210.02 690.25 211.75 690.9 213.9C691.55 216.05 692.25 221.4 693.3 224.2C694.35 227 695.27 228.32 697.2 230.7C699.13 233.08 702.53 236.35 704.9 238.5C707.27 240.65 709.67 241.23 711.4 243.6C713.13 245.97 714 249.02 715.3 252.7C716.6 256.38 717.9 261.38 719.2 265.7C720.5 270.02 721.6 274.28 723.1 278.6C724.6 282.92 726.48 288.15 728.2 291.6C729.92 295.05 731.37 297.5 733.4 299.3C735.43 301.1 739.23 301.88 740.4 302.4" fill="none" stroke="#000" stroke-width="1.05" stroke-opacity="0.95"/>
</g>
<path d="M581.75 -10.05V179.45M788.85 -10.05V179.45M581.35 -10.05H789.25" fill="none" stroke="#000" stroke-width="0.9" stroke-opacity="0.72"/>
<path d="M609.5 179.45v-3.9M609.5 -10.05v3.9M656.6 179.45v-3.9M656.6 -10.05v3.9M703.7 179.45v-3.9M703.7 -10.05v3.9M750.8 179.45v-3.9M750.8 -10.05v3.9M590.66 179.45v-2M590.66 -10.05v2M600.08 179.45v-2M600.08 -10.05v2M618.92 179.45v-2M618.92 -10.05v2M628.34 179.45v-2M628.34 -10.05v2M637.76 179.45v-2M637.76 -10.05v2M647.18 179.45v-2M647.18 -10.05v2M666.02 179.45v-2M666.02 -10.05v2M675.44 179.45v-2M675.44 -10.05v2M684.86 179.45v-2M684.86 -10.05v2M694.28 179.45v-2M694.28 -10.05v2M713.12 179.45v-2M713.12 -10.05v2M722.54 179.45v-2M722.54 -10.05v2M731.96 179.45v-2M731.96 -10.05v2M741.38 179.45v-2M741.38 -10.05v2M760.22 179.45v-2M760.22 -10.05v2M769.64 179.45v-2M769.64 -10.05v2M779.06 179.45v-2M779.06 -10.05v2M581.75 147.87h3.9M788.85 147.87h-3.9M581.75 116.28h3.9M788.85 116.28h-3.9M581.75 84.7h3.9M788.85 84.7h-3.9M581.75 53.12h3.9M788.85 53.12h-3.9M581.75 21.53h3.9M788.85 21.53h-3.9M581.75 173.13h2M788.85 173.13h-2M581.75 166.82h2M788.85 166.82h-2M581.75 160.5h2M788.85 160.5h-2M581.75 154.18h2M788.85 154.18h-2M581.75 141.55h2M788.85 141.55h-2M581.75 135.23h2M788.85 135.23h-2M581.75 128.92h2M788.85 128.92h-2M581.75 122.6h2M788.85 122.6h-2M581.75 109.97h2M788.85 109.97h-2M581.75 103.65h2M788.85 103.65h-2M581.75 97.33h2M788.85 97.33h-2M581.75 91.02h2M788.85 91.02h-2M581.75 78.38h2M788.85 78.38h-2M581.75 72.07h2M788.85 72.07h-2M581.75 65.75h2M788.85 65.75h-2M581.75 59.43h2M788.85 59.43h-2M581.75 46.8h2M788.85 46.8h-2M581.75 40.48h2M788.85 40.48h-2M581.75 34.17h2M788.85 34.17h-2M581.75 27.85h2M788.85 27.85h-2M581.75 15.22h2M788.85 15.22h-2M581.75 8.9h2M788.85 8.9h-2M581.75 2.58h2M788.85 2.58h-2M581.75 -3.73h2M788.85 -3.73h-2" stroke="#000" stroke-width="0.85" stroke-opacity="0.8" fill="none"/>
<path d="M581.75 179.45V368.4M788.85 179.45V368.4M581.35 368.4H789.25" fill="none" stroke="#000" stroke-width="0.9" stroke-opacity="0.72"/>
<path d="M609.5 368.4v-3.9M609.5 179.45v3.9M656.6 368.4v-3.9M656.6 179.45v3.9M703.7 368.4v-3.9M703.7 179.45v3.9M750.8 368.4v-3.9M750.8 179.45v3.9M590.66 368.4v-2M590.66 179.45v2M600.08 368.4v-2M600.08 179.45v2M618.92 368.4v-2M618.92 179.45v2M628.34 368.4v-2M628.34 179.45v2M637.76 368.4v-2M637.76 179.45v2M647.18 368.4v-2M647.18 179.45v2M666.02 368.4v-2M666.02 179.45v2M675.44 368.4v-2M675.44 179.45v2M684.86 368.4v-2M684.86 179.45v2M694.28 368.4v-2M694.28 179.45v2M713.12 368.4v-2M713.12 179.45v2M722.54 368.4v-2M722.54 179.45v2M731.96 368.4v-2M731.96 179.45v2M741.38 368.4v-2M741.38 179.45v2M760.22 368.4v-2M760.22 179.45v2M769.64 368.4v-2M769.64 179.45v2M779.06 368.4v-2M779.06 179.45v2M581.75 226.69h3.9M788.85 226.69h-3.9M581.75 273.92h3.9M788.85 273.92h-3.9M581.75 321.16h3.9M788.85 321.16h-3.9M581.75 354.18h2M788.85 354.18h-2M581.75 345.86h2M788.85 345.86h-2M581.75 339.96h2M788.85 339.96h-2M581.75 335.38h2M788.85 335.38h-2M581.75 331.64h2M788.85 331.64h-2M581.75 328.48h2M788.85 328.48h-2M581.75 325.74h2M788.85 325.74h-2M581.75 323.32h2M788.85 323.32h-2M581.75 306.94h2M788.85 306.94h-2M581.75 298.62h2M788.85 298.62h-2M581.75 292.72h2M788.85 292.72h-2M581.75 288.14h2M788.85 288.14h-2M581.75 284.4h2M788.85 284.4h-2M581.75 281.24h2M788.85 281.24h-2M581.75 278.5h2M788.85 278.5h-2M581.75 276.09h2M788.85 276.09h-2M581.75 259.71h2M788.85 259.71h-2M581.75 251.39h2M788.85 251.39h-2M581.75 245.49h2M788.85 245.49h-2M581.75 240.91h2M788.85 240.91h-2M581.75 237.17h2M788.85 237.17h-2M581.75 234h2M788.85 234h-2M581.75 231.27h2M788.85 231.27h-2M581.75 228.85h2M788.85 228.85h-2M581.75 212.47h2M788.85 212.47h-2M581.75 204.15h2M788.85 204.15h-2M581.75 198.25h2M788.85 198.25h-2M581.75 193.67h2M788.85 193.67h-2M581.75 189.93h2M788.85 189.93h-2M581.75 186.77h2M788.85 186.77h-2M581.75 184.03h2M788.85 184.03h-2M581.75 181.61h2M788.85 181.61h-2" stroke="#000" stroke-width="0.85" stroke-opacity="0.8" fill="none"/>
<path d="M581.25 179.45H789.35" stroke="#000" stroke-opacity="0.47" stroke-width="2.5" fill="none"/>
<text x="609.5" y="201.45" font-size="17.15" text-anchor="middle" fill="#000" >21.5</text>
<text x="609.5" y="390.1" font-size="17.15" text-anchor="middle" fill="#000" >21.5</text>
<text x="656.6" y="201.45" font-size="17.15" text-anchor="middle" fill="#000" >22.0</text>
<text x="656.6" y="390.1" font-size="17.15" text-anchor="middle" fill="#000" >22.0</text>
<text x="703.7" y="201.45" font-size="17.15" text-anchor="middle" fill="#000" >22.5</text>
<text x="703.7" y="390.1" font-size="17.15" text-anchor="middle" fill="#000" >22.5</text>
<text x="750.8" y="201.45" font-size="17.15" text-anchor="middle" fill="#000" >23.0</text>
<text x="750.8" y="390.1" font-size="17.15" text-anchor="middle" fill="#000" >23.0</text>
<text x="685.3" y="408.7" font-size="17.15" text-anchor="middle" fill="#000" >Time [hrs of day 20110906]</text>
<text x="577.05" y="178.05" font-size="17.15" text-anchor="end" fill="#000" >0</text>
<text x="577.05" y="153.67" font-size="17.15" text-anchor="end" fill="#000" >50</text>
<text x="577.05" y="122.08" font-size="17.15" text-anchor="end" fill="#000" >100</text>
<text x="577.05" y="90.5" font-size="17.15" text-anchor="end" fill="#000" >150</text>
<text x="577.05" y="58.92" font-size="17.15" text-anchor="end" fill="#000" >200</text>
<text x="577.05" y="27.33" font-size="17.15" text-anchor="end" fill="#000" >250</text>
<text x="577.05" y="0.3" font-size="17.15" text-anchor="end" fill="#000" >300</text>
<text x="576.75" y="188.85" font-size="17.15" text-anchor="end">10<tspan dy="-7.0" font-size="10.3">-3</tspan></text>
<text x="576.75" y="232.29" font-size="17.15" text-anchor="end">10<tspan dy="-7.0" font-size="10.3">-4</tspan></text>
<text x="576.75" y="279.52" font-size="17.15" text-anchor="end">10<tspan dy="-7.0" font-size="10.3">-5</tspan></text>
<text x="576.75" y="326.76" font-size="17.15" text-anchor="end">10<tspan dy="-7.0" font-size="10.3">-6</tspan></text>
<text x="576.75" y="368.7" font-size="17.15" text-anchor="end">10<tspan dy="-7.0" font-size="10.3">-7</tspan></text>
<text x="592.05" y="9.05" font-size="17.15" text-anchor="start" fill="#ff0000" >&#916;E<tspan dy="4.3" font-size="10.3">free</tspan><tspan dy="-4.3" font-size="1">&#8203;</tspan>=(-45<tspan text-decoration="underline">+</tspan>3) 10<tspan dy="-7.3" font-size="10.3">30</tspan><tspan dy="7.3" font-size="1">&#8203;</tspan>erg</text>
<text x="592.05" y="28.05" font-size="17.15" text-anchor="start" fill="#0000ff" >&#916;E<tspan dy="4.3" font-size="10.3">free</tspan><tspan dy="-4.3" font-size="1">&#8203;</tspan>=(-53<tspan text-decoration="underline">+</tspan>15) 10<tspan dy="-7.3" font-size="10.3">30</tspan><tspan dy="7.3" font-size="1">&#8203;</tspan> erg</text>
<text x="592.05" y="46.05" font-size="17.15" text-anchor="start" fill="#ff0000" >q<tspan dy="4.3" font-size="10.3">pot</tspan><tspan dy="-4.3" font-size="1">&#8203;</tspan>=1.55</text>
<text x="592.35" y="359.1" font-size="17.15" text-anchor="start" fill="#000" >X2.1</text>
<clipPath id="p18"><rect x="83" y="476.5" width="207.1" height="189.3"/></clipPath>
<g clip-path="url(#p18)">
<path d="M83 644.4L83 644.4L87.88 644.4L87.88 594.4L97.32 594.4L97.32 576.1L106.76 576.1L106.76 580.5L116.2 580.5L116.2 569.5L125.64 569.5L125.64 575.2L135.08 575.2L135.08 569.3L144.52 569.3L144.52 542L153.96 542L153.96 564.9L163.4 564.9L163.4 567.5L172.84 567.5L172.84 604.2L182.28 604.2L182.28 621.2L191.72 621.2L191.72 593.4L201.16 593.4L201.16 644L210.6 644L210.6 655.4L220.04 655.4L220.04 614.2L229.48 614.2L229.48 652.1L238.92 652.1L238.92 621.6L248.36 621.6L248.36 656.3L257.8 656.3L257.8 655.7L267.24 655.7L267.24 643.5L276.68 643.5L276.68 659.4L286.12 659.4L286.12 612.3L290.1 612.3" fill="none" stroke="#000" stroke-width="0.8" stroke-opacity="0.8" stroke-linejoin="miter"/>
<path d="M92.6 588.69V600.11M102.04 568.92V583.28M111.48 573.68V587.32M120.92 561.8V577.2M130.36 567.95V582.45M139.8 561.58V577.02M149.24 532.1V551.9M158.68 556.83V572.97M168.12 559.64V575.36M177.56 599.27V609.13M187 617.63V624.77M196.44 587.61V599.19M205.88 642.26V645.74M215.32 654.57V656.23M224.76 610.07V618.33M234.2 651V653.2M243.64 618.06V625.14M253.08 655.54V657.06M262.52 654.89V656.51M271.96 641.72V645.28M281.4 658.89V659.91" fill="none" stroke="#000" stroke-width="0.9" stroke-opacity="0.85"/>
<clipPath id="c19"><polygon points="158.6,665.8 158.6,564.9 178.1,592.7 190,613.9 206.2,636.5 215.2,646.76 215.2,665.8"/></clipPath>
<path clip-path="url(#c19)" d="M158.6 562.12L215.2 505.52M158.6 567.84L215.2 511.24M158.6 573.56L215.2 516.96M158.6 579.28L215.2 522.68M158.6 585L215.2 528.4M158.6 590.72L215.2 534.12M158.6 596.44L215.2 539.84M158.6 602.16L215.2 545.56M158.6 607.88L215.2 551.28M158.6 613.6L215.2 557M158.6 619.32L215.2 562.72M158.6 625.04L215.2 568.44M158.6 630.76L215.2 574.16M158.6 636.48L215.2 579.88M158.6 642.2L215.2 585.6M158.6 647.92L215.2 591.32M158.6 653.64L215.2 597.04M158.6 659.36L215.2 602.76M158.6 665.08L215.2 608.48M158.6 670.8L215.2 614.2M158.6 676.52L215.2 619.92M158.6 682.24L215.2 625.64M158.6 687.96L215.2 631.36M158.6 693.68L215.2 637.08M158.6 699.4L215.2 642.8M158.6 705.12L215.2 648.52M158.6 710.84L215.2 654.24M158.6 716.56L215.2 659.96M158.6 722.28L215.2 665.68M158.6 728L215.2 671.4" stroke="#0000ff" stroke-width="0.95" stroke-opacity="0.95" fill="none"/>
<path d="M92.6 578.1L101.9 579.1L111.1 577.9L121.1 573.5L130.4 570.2L139.6 567.3L148.9 565.5L158.6 564.9L178.1 592.7L190 613.9L206.2 636.5L215.5 647.1L224.8 639.4L234 641.8L243.3 643.1L253 654.3L262.5 655.4L271.8 652.1L281.1 643.7" fill="none" stroke="#0000ff" stroke-width="2.55" stroke-linejoin="round" stroke-linecap="butt"/>
<path d="M83.3 589.4L89 590.3L108.1 590.3L127.1 599.3L145.9 595.8L164.8 593L183.8 613.9L202.2 647.1L221.4 649.3L240 650.6L259 649L278.2 650.4L290.3 649.7" fill="none" stroke="#ff0000" stroke-width="1.0"/>
<path d="M84.4 590.3L89 585.7L93.6 590.3L89 594.9ZM103.5 590.3L108.1 585.7L112.7 590.3L108.1 594.9ZM122.5 599.3L127.1 594.7L131.7 599.3L127.1 603.9ZM141.3 595.8L145.9 591.2L150.5 595.8L145.9 600.4ZM160.2 593L164.8 588.4L169.4 593L164.8 597.6ZM179.2 613.9L183.8 609.3L188.4 613.9L183.8 618.5ZM197.6 647.1L202.2 642.5L206.8 647.1L202.2 651.7ZM216.8 649.3L221.4 644.7L226 649.3L221.4 653.9ZM235.4 650.6L240 646L244.6 650.6L240 655.2ZM254.4 649L259 644.4L263.6 649L259 653.6ZM273.6 650.4L278.2 645.8L282.8 650.4L278.2 655Z" fill="none" stroke="#ff0000" stroke-width="1.15"/>
</g>
<clipPath id="p20"><rect x="83" y="665.8" width="207.1" height="189.1"/></clipPath>
<g clip-path="url(#p20)">
<clipPath id="c21"><polygon points="177.1,854.3 178.9,828.4 180.5,805.1 181.8,781.7 183.1,758.4 184.1,735.1 184.9,714.4 185.7,701.4 186.7,701.4 187.5,737.7 188,789.5 188.3,854.3"/></clipPath>
<path clip-path="url(#c21)" d="M177.1 695.68L188.3 684.48M177.1 701.46L188.3 690.26M177.1 707.24L188.3 696.04M177.1 713.02L188.3 701.82M177.1 718.8L188.3 707.6M177.1 724.58L188.3 713.38M177.1 730.36L188.3 719.16M177.1 736.14L188.3 724.94M177.1 741.92L188.3 730.72M177.1 747.7L188.3 736.5M177.1 753.48L188.3 742.28M177.1 759.26L188.3 748.06M177.1 765.04L188.3 753.84M177.1 770.82L188.3 759.62M177.1 776.6L188.3 765.4M177.1 782.38L188.3 771.18M177.1 788.16L188.3 776.96M177.1 793.94L188.3 782.74M177.1 799.72L188.3 788.52M177.1 805.5L188.3 794.3M177.1 811.28L188.3 800.08M177.1 817.06L188.3 805.86M177.1 822.84L188.3 811.64M177.1 828.62L188.3 817.42M177.1 834.4L188.3 823.2M177.1 840.18L188.3 828.98M177.1 845.96L188.3 834.76M177.1 851.74L188.3 840.54M177.1 857.52L188.3 846.32M177.1 863.3L188.3 852.1M177.1 869.08L188.3 857.88" stroke="#000" stroke-width="0.8" stroke-opacity="0.9" fill="none"/>
<path d="M177.1 854.3L178.9 828.4L180.5 805.1L181.8 781.7L183.1 758.4L184.1 735.1L184.9 714.4L185.7 701.4" fill="none" stroke="#000" stroke-width="2.7" stroke-opacity="0.88" stroke-dasharray="7.8 8.2"/>
<path d="M177.1 854.3L178.9 828.4L180.5 805.1L181.8 781.7L183.1 758.4L184.1 735.1L184.9 714.4L185.7 701.4" fill="none" stroke="#fff" stroke-width="1.0" stroke-dasharray="6.2 9.8" stroke-dashoffset="-0.8"/>
<path d="M185.7 701.4L186.7 701.4L187.5 737.7L188 789.5L188.3 854.3" fill="none" stroke="#000" stroke-width="1.5" stroke-opacity="0.85" stroke-dasharray="7.8 8.2" stroke-dashoffset="4"/>
<clipPath id="c22"><polygon points="147.9,854.3 149.4,836.2 151.2,818 152.5,811.5 154.3,818 155.6,836.2 156.9,854.3"/></clipPath>
<path clip-path="url(#c22)" d="M147.9 805.8L156.9 796.8M147.9 811.58L156.9 802.58M147.9 817.36L156.9 808.36M147.9 823.14L156.9 814.14M147.9 828.92L156.9 819.92M147.9 834.7L156.9 825.7M147.9 840.48L156.9 831.48M147.9 846.26L156.9 837.26M147.9 852.04L156.9 843.04M147.9 857.82L156.9 848.82M147.9 863.6L156.9 854.6" stroke="#000" stroke-width="0.8" stroke-opacity="0.9" fill="none"/>
<path d="M147.9 854.3L149.4 836.2L151.2 818L152.5 811.5L154.3 818L155.6 836.2L156.9 854.3" fill="none" stroke="#000" stroke-width="1.5" stroke-opacity="0.85" stroke-dasharray="7.8 8.2"/>
<path d="M177.1 666.8V854.9" stroke="#000" stroke-opacity="0.62" stroke-width="1.0" stroke-dasharray="7.9 8.2" fill="none"/>
<path d="M196 666.8V854.9" stroke="#000" stroke-opacity="0.62" stroke-width="1.0" stroke-dasharray="7.9 8.2" fill="none"/>
<path d="M186.7 665.8V854.9" stroke="#000" stroke-opacity="0.85" stroke-width="1.2" fill="none"/>
<path d="M131 817.2C132.87 817.2 139.27 817.5 142.2 817.2C145.13 816.9 147.1 816.57 148.6 815.4C150.1 814.23 150.42 812.57 151.2 810.2C151.98 807.83 152.57 803.35 153.3 801.2C154.03 799.05 154.43 797.52 155.6 797.3C156.77 797.08 158.22 798.7 160.3 799.9C162.38 801.1 165.52 803.2 168.1 804.5C170.68 805.8 173.87 807.17 175.8 807.7C177.73 808.23 178.75 809.87 179.7 807.7C180.65 805.53 180.93 802.05 181.5 794.7C182.07 787.35 182.58 773.97 183.1 763.6C183.62 753.23 184.13 741.57 184.6 732.5C185.07 723.43 185.47 714.38 185.9 709.2C186.33 704.02 186.63 702.7 187.2 701.4C187.77 700.1 188.38 700.1 189.3 701.4C190.22 702.7 191.27 705.95 192.7 709.2C194.13 712.45 195.53 716.15 197.9 720.9C200.27 725.65 203.67 732.3 206.9 737.7C210.13 743.1 213.83 748.98 217.3 753.3C220.77 757.62 224.68 761.02 227.7 763.6C230.72 766.18 232.98 767.42 235.4 768.8C237.82 770.18 241.07 771.38 242.2 771.9" fill="none" stroke="#000" stroke-width="1.05" stroke-opacity="0.95"/>
</g>
<path d="M83 476.5V665.8M290.1 476.5V665.8M82.6 476.5H290.5" fill="none" stroke="#000" stroke-width="0.9" stroke-opacity="0.72"/>
<path d="M126.8 665.8v-3.9M126.8 476.5v3.9M174.3 665.8v-3.9M174.3 476.5v3.9M221.8 665.8v-3.9M221.8 476.5v3.9M269.3 665.8v-3.9M269.3 476.5v3.9M88.8 665.8v-2M88.8 476.5v2M98.3 665.8v-2M98.3 476.5v2M107.8 665.8v-2M107.8 476.5v2M117.3 665.8v-2M117.3 476.5v2M136.3 665.8v-2M136.3 476.5v2M145.8 665.8v-2M145.8 476.5v2M155.3 665.8v-2M155.3 476.5v2M164.8 665.8v-2M164.8 476.5v2M183.8 665.8v-2M183.8 476.5v2M193.3 665.8v-2M193.3 476.5v2M202.8 665.8v-2M202.8 476.5v2M212.3 665.8v-2M212.3 476.5v2M231.3 665.8v-2M231.3 476.5v2M240.8 665.8v-2M240.8 476.5v2M250.3 665.8v-2M250.3 476.5v2M259.8 665.8v-2M259.8 476.5v2M278.8 665.8v-2M278.8 476.5v2M288.3 665.8v-2M288.3 476.5v2M83 627.94h3.9M290.1 627.94h-3.9M83 590.08h3.9M290.1 590.08h-3.9M83 552.22h3.9M290.1 552.22h-3.9M83 514.36h3.9M290.1 514.36h-3.9M83 658.23h2M290.1 658.23h-2M83 650.66h2M290.1 650.66h-2M83 643.08h2M290.1 643.08h-2M83 635.51h2M290.1 635.51h-2M83 620.37h2M290.1 620.37h-2M83 612.8h2M290.1 612.8h-2M83 605.22h2M290.1 605.22h-2M83 597.65h2M290.1 597.65h-2M83 582.51h2M290.1 582.51h-2M83 574.94h2M290.1 574.94h-2M83 567.36h2M290.1 567.36h-2M83 559.79h2M290.1 559.79h-2M83 544.65h2M290.1 544.65h-2M83 537.08h2M290.1 537.08h-2M83 529.5h2M290.1 529.5h-2M83 521.93h2M290.1 521.93h-2M83 506.79h2M290.1 506.79h-2M83 499.22h2M290.1 499.22h-2M83 491.64h2M290.1 491.64h-2M83 484.07h2M290.1 484.07h-2" stroke="#000" stroke-width="0.85" stroke-opacity="0.8" fill="none"/>
<path d="M83 665.8V854.9M290.1 665.8V854.9M82.6 854.9H290.5" fill="none" stroke="#000" stroke-width="0.9" stroke-opacity="0.72"/>
<path d="M126.8 854.9v-3.9M126.8 665.8v3.9M174.3 854.9v-3.9M174.3 665.8v3.9M221.8 854.9v-3.9M221.8 665.8v3.9M269.3 854.9v-3.9M269.3 665.8v3.9M88.8 854.9v-2M88.8 665.8v2M98.3 854.9v-2M98.3 665.8v2M107.8 854.9v-2M107.8 665.8v2M117.3 854.9v-2M117.3 665.8v2M136.3 854.9v-2M136.3 665.8v2M145.8 854.9v-2M145.8 665.8v2M155.3 854.9v-2M155.3 665.8v2M164.8 854.9v-2M164.8 665.8v2M183.8 854.9v-2M183.8 665.8v2M193.3 854.9v-2M193.3 665.8v2M202.8 854.9v-2M202.8 665.8v2M212.3 854.9v-2M212.3 665.8v2M231.3 854.9v-2M231.3 665.8v2M240.8 854.9v-2M240.8 665.8v2M250.3 854.9v-2M250.3 665.8v2M259.8 854.9v-2M259.8 665.8v2M278.8 854.9v-2M278.8 665.8v2M288.3 854.9v-2M288.3 665.8v2M83 713.07h3.9M290.1 713.07h-3.9M83 760.35h3.9M290.1 760.35h-3.9M83 807.62h3.9M290.1 807.62h-3.9M83 840.67h2M290.1 840.67h-2M83 832.34h2M290.1 832.34h-2M83 826.44h2M290.1 826.44h-2M83 821.86h2M290.1 821.86h-2M83 818.11h2M290.1 818.11h-2M83 814.95h2M290.1 814.95h-2M83 812.21h2M290.1 812.21h-2M83 809.79h2M290.1 809.79h-2M83 793.39h2M290.1 793.39h-2M83 785.07h2M290.1 785.07h-2M83 779.16h2M290.1 779.16h-2M83 774.58h2M290.1 774.58h-2M83 770.84h2M290.1 770.84h-2M83 767.67h2M290.1 767.67h-2M83 764.93h2M290.1 764.93h-2M83 762.51h2M290.1 762.51h-2M83 746.12h2M290.1 746.12h-2M83 737.79h2M290.1 737.79h-2M83 731.89h2M290.1 731.89h-2M83 727.31h2M290.1 727.31h-2M83 723.56h2M290.1 723.56h-2M83 720.4h2M290.1 720.4h-2M83 717.66h2M290.1 717.66h-2M83 715.24h2M290.1 715.24h-2M83 698.84h2M290.1 698.84h-2M83 690.52h2M290.1 690.52h-2M83 684.61h2M290.1 684.61h-2M83 680.03h2M290.1 680.03h-2M83 676.29h2M290.1 676.29h-2M83 673.12h2M290.1 673.12h-2M83 670.38h2M290.1 670.38h-2M83 667.96h2M290.1 667.96h-2" stroke="#000" stroke-width="0.85" stroke-opacity="0.8" fill="none"/>
<path d="M82.5 665.8H290.6" stroke="#000" stroke-opacity="0.47" stroke-width="2.5" fill="none"/>
<text x="126.8" y="687.8" font-size="17.15" text-anchor="middle" fill="#000" >22.0</text>
<text x="126.8" y="876.6" font-size="17.15" text-anchor="middle" fill="#000" >22.0</text>
<text x="174.3" y="687.8" font-size="17.15" text-anchor="middle" fill="#000" >22.5</text>
<text x="174.3" y="876.6" font-size="17.15" text-anchor="middle" fill="#000" >22.5</text>
<text x="221.8" y="687.8" font-size="17.15" text-anchor="middle" fill="#000" >23.0</text>
<text x="221.8" y="876.6" font-size="17.15" text-anchor="middle" fill="#000" >23.0</text>
<text x="269.3" y="687.8" font-size="17.15" text-anchor="middle" fill="#000" >23.5</text>
<text x="269.3" y="876.6" font-size="17.15" text-anchor="middle" fill="#000" >23.5</text>
<text x="186.55" y="895.2" font-size="17.15" text-anchor="middle" fill="#000" >Time [hrs of day 20110907]</text>
<text x="78.3" y="664.4" font-size="17.15" text-anchor="end" fill="#000" >0</text>
<text x="78.3" y="633.74" font-size="17.15" text-anchor="end" fill="#000" >50</text>
<text x="78.3" y="595.88" font-size="17.15" text-anchor="end" fill="#000" >100</text>
<text x="78.3" y="558.02" font-size="17.15" text-anchor="end" fill="#000" >150</text>
<text x="78.3" y="520.16" font-size="17.15" text-anchor="end" fill="#000" >200</text>
<text x="78.3" y="486.4" font-size="17.15" text-anchor="end" fill="#000" >250</text>
<text x="78" y="675.2" font-size="17.15" text-anchor="end">10<tspan dy="-7.0" font-size="10.3">-3</tspan></text>
<text x="78" y="718.67" font-size="17.15" text-anchor="end">10<tspan dy="-7.0" font-size="10.3">-4</tspan></text>
<text x="78" y="765.95" font-size="17.15" text-anchor="end">10<tspan dy="-7.0" font-size="10.3">-5</tspan></text>
<text x="78" y="813.23" font-size="17.15" text-anchor="end">10<tspan dy="-7.0" font-size="10.3">-6</tspan></text>
<text x="78" y="855.2" font-size="17.15" text-anchor="end">10<tspan dy="-7.0" font-size="10.3">-7</tspan></text>
<text x="93.3" y="495.3" font-size="17.15" text-anchor="start" fill="#ff0000" >&#916;E<tspan dy="4.3" font-size="10.3">free</tspan><tspan dy="-4.3" font-size="1">&#8203;</tspan>=(-77<tspan text-decoration="underline">+</tspan>5) 10<tspan dy="-7.3" font-size="10.3">30</tspan><tspan dy="7.3" font-size="1">&#8203;</tspan>erg</text>
<text x="93.3" y="514.3" font-size="17.15" text-anchor="start" fill="#0000ff" >&#916;E<tspan dy="4.3" font-size="10.3">free</tspan><tspan dy="-4.3" font-size="1">&#8203;</tspan>=(-107<tspan text-decoration="underline">+</tspan>11) 10<tspan dy="-7.3" font-size="10.3">30</tspan><tspan dy="7.3" font-size="1">&#8203;</tspan> erg</text>
<text x="93.3" y="532.3" font-size="17.15" text-anchor="start" fill="#ff0000" >q<tspan dy="4.3" font-size="10.3">pot</tspan><tspan dy="-4.3" font-size="1">&#8203;</tspan>=1.37</text>
<text x="93.6" y="845.6" font-size="17.15" text-anchor="start" fill="#000" >X1.8</text>
<text x="186.05" y="468.9" font-size="21.4" text-anchor="middle" xml:space="preserve">#  67 : 20110907</text>
<text transform="translate(36.3 570.35) rotate(-90)" font-size="17.15" text-anchor="middle">E<tspan dy="4.6" font-size="10.3">free</tspan><tspan dy="-4.6"> [10</tspan><tspan dy="-8.5" font-size="10.3">30</tspan><tspan dy="8.5"> erg]</tspan></text>
<text transform="translate(37.4 760.35) rotate(-90)" font-size="17.15" text-anchor="middle">GOES flux [10<tspan dy="-8.5" font-size="10.3">30</tspan><tspan dy="8.5"> erg]</tspan></text>
<clipPath id="p23"><rect x="332.6" y="476.5" width="207.1" height="189.3"/></clipPath>
<g clip-path="url(#p23)">
<path d="M332.6 619.5L332.6 619.5L335.93 619.5L335.93 620.5L343.87 620.5L343.87 618.5L351.81 618.5L351.81 623.1L359.75 623.1L359.75 620.9L367.69 620.9L367.69 617.6L375.63 617.6L375.63 614.5L383.57 614.5L383.57 617.6L391.51 617.6L391.51 625.5L399.45 625.5L399.45 617.6L407.39 617.6L407.39 622.5L415.33 622.5L415.33 621.8L423.27 621.8L423.27 618.2L431.21 618.2L431.21 628.2L439.15 628.2L439.15 611.3L447.09 611.3L447.09 621.8L455.03 621.8L455.03 623.1L462.97 623.1L462.97 622.5L470.91 622.5L470.91 621.1L478.85 621.1L478.85 612.5L486.79 612.5L486.79 623.4L494.73 623.4L494.73 619.4L502.67 619.4L502.67 623.1L510.61 623.1L510.61 621.8L518.55 621.8L518.55 627.1L526.49 627.1L526.49 619.8L534.43 619.8L534.43 621.8L538.4 621.8" fill="none" stroke="#000" stroke-width="0.8" stroke-opacity="0.8" stroke-linejoin="miter"/>
<path d="M339.9 615.06V625.94M347.84 612.82V624.18M355.78 617.98V628.22M363.72 615.51V626.29M371.66 611.82V623.38M379.6 608.34V620.66M387.54 611.82V623.38M395.48 620.66V630.34M403.42 611.82V623.38M411.36 617.3V627.7M419.3 616.52V627.08M427.24 612.49V623.91M435.18 623.69V632.71M443.12 604.76V617.84M451.06 616.52V627.08M459 617.98V628.22M466.94 617.3V627.7M474.88 615.74V626.46M482.82 606.1V618.9M490.76 618.31V628.49M498.7 613.83V624.97M506.64 617.98V628.22M514.58 616.52V627.08M522.52 622.46V631.74M530.46 614.28V625.32M538.4 616.52V627.08" fill="none" stroke="#000" stroke-width="0.9" stroke-opacity="0.85"/>
<clipPath id="c24"><polygon points="434.1,665.8 434.1,620.94 440,620.2 450,621.3 466.5,621.55 466.5,665.8"/></clipPath>
<path clip-path="url(#c24)" d="M434.1 618.38L466.5 585.98M434.1 624.1L466.5 591.7M434.1 629.82L466.5 597.42M434.1 635.54L466.5 603.14M434.1 641.26L466.5 608.86M434.1 646.98L466.5 614.58M434.1 652.7L466.5 620.3M434.1 658.42L466.5 626.02M434.1 664.14L466.5 631.74M434.1 669.86L466.5 637.46M434.1 675.58L466.5 643.18M434.1 681.3L466.5 648.9M434.1 687.02L466.5 654.62M434.1 692.74L466.5 660.34M434.1 698.46L466.5 666.06" stroke="#0000ff" stroke-width="0.95" stroke-opacity="0.95" fill="none"/>
<path d="M332.7 620.7L380 620.6L410 620.9L420 621.8L432 621.2L440 620.2L450 621.3L470 621.6L480 620.9L500 621.5L515 621.6L529.5 621" fill="none" stroke="#0000ff" stroke-width="2.55" stroke-linejoin="round" stroke-linecap="butt"/>
<path d="M376.6 553.7L377.4 553.3L392.7 555.5L408.5 554.5L424 567.9L424.8 568.7L440.1 582.9L440.9 583.3L455.6 582.9L471.2 580.1L471.8 580.5L487.2 581.4L503 579.6" fill="none" stroke="#ff0000" stroke-width="1.0"/>
<path d="M372 553.7L376.6 549.1L381.2 553.7L376.6 558.3ZM372.8 553.3L377.4 548.7L382 553.3L377.4 557.9ZM388.1 555.5L392.7 550.9L397.3 555.5L392.7 560.1ZM403.9 554.5L408.5 549.9L413.1 554.5L408.5 559.1ZM419.4 567.9L424 563.3L428.6 567.9L424 572.5ZM420.2 568.7L424.8 564.1L429.4 568.7L424.8 573.3ZM435.5 582.9L440.1 578.3L444.7 582.9L440.1 587.5ZM436.3 583.3L440.9 578.7L445.5 583.3L440.9 587.9ZM451 582.9L455.6 578.3L460.2 582.9L455.6 587.5ZM466.6 580.1L471.2 575.5L475.8 580.1L471.2 584.7ZM467.2 580.5L471.8 575.9L476.4 580.5L471.8 585.1ZM482.6 581.4L487.2 576.8L491.8 581.4L487.2 586ZM498.4 579.6L503 575L507.6 579.6L503 584.2Z" fill="none" stroke="#ff0000" stroke-width="1.15"/>
</g>
<clipPath id="p25"><rect x="332.6" y="665.8" width="207.1" height="189.1"/></clipPath>
<g clip-path="url(#p25)">
<clipPath id="c26"><polygon points="407.2,854.3 408.5,828.4 409.8,810.2 411.6,794.7 413.4,774 415,750.7 416.8,724.8 418.6,704 419.4,696.3 420.7,711.8 422,737.7 423.3,763.6 424.5,774 425.3,737.7 426.4,711.8 427.9,693.7 429.7,684.6 431.5,682 433.6,684.6 436.2,693.7 438.3,709.2 439.3,737.7 440.1,789.5 440.9,854.3"/></clipPath>
<path clip-path="url(#c26)" d="M407.2 679.44L440.9 645.74M407.2 685.22L440.9 651.52M407.2 691L440.9 657.3M407.2 696.78L440.9 663.08M407.2 702.56L440.9 668.86M407.2 708.34L440.9 674.64M407.2 714.12L440.9 680.42M407.2 719.9L440.9 686.2M407.2 725.68L440.9 691.98M407.2 731.46L440.9 697.76M407.2 737.24L440.9 703.54M407.2 743.02L440.9 709.32M407.2 748.8L440.9 715.1M407.2 754.58L440.9 720.88M407.2 760.36L440.9 726.66M407.2 766.14L440.9 732.44M407.2 771.92L440.9 738.22M407.2 777.7L440.9 744M407.2 783.48L440.9 749.78M407.2 789.26L440.9 755.56M407.2 795.04L440.9 761.34M407.2 800.82L440.9 767.12M407.2 806.6L440.9 772.9M407.2 812.38L440.9 778.68M407.2 818.16L440.9 784.46M407.2 823.94L440.9 790.24M407.2 829.72L440.9 796.02M407.2 835.5L440.9 801.8M407.2 841.28L440.9 807.58M407.2 847.06L440.9 813.36M407.2 852.84L440.9 819.14M407.2 858.62L440.9 824.92M407.2 864.4L440.9 830.7M407.2 870.18L440.9 836.48M407.2 875.96L440.9 842.26M407.2 881.74L440.9 848.04M407.2 887.52L440.9 853.82M407.2 893.3L440.9 859.6" stroke="#000" stroke-width="0.8" stroke-opacity="0.9" fill="none"/>
<path d="M407.2 854.3L408.5 828.4L409.8 810.2L411.6 794.7L413.4 774L415 750.7L416.8 724.8L418.6 704L419.4 696.3L420.7 711.8L422 737.7L423.3 763.6L424.5 774L425.3 737.7L426.4 711.8L427.9 693.7L429.7 684.6L431.5 682" fill="none" stroke="#000" stroke-width="2.7" stroke-opacity="0.88" stroke-dasharray="7.8 8.2"/>
<path d="M407.2 854.3L408.5 828.4L409.8 810.2L411.6 794.7L413.4 774L415 750.7L416.8 724.8L418.6 704L419.4 696.3L420.7 711.8L422 737.7L423.3 763.6L424.5 774L425.3 737.7L426.4 711.8L427.9 693.7L429.7 684.6L431.5 682" fill="none" stroke="#fff" stroke-width="1.0" stroke-dasharray="6.2 9.8" stroke-dashoffset="-0.8"/>
<path d="M431.5 682L433.6 684.6L436.2 693.7L438.3 709.2L439.3 737.7L440.1 789.5L440.9 854.3" fill="none" stroke="#000" stroke-width="1.5" stroke-opacity="0.85" stroke-dasharray="7.8 8.2" stroke-dashoffset="4"/>
<clipPath id="c27"><polygon points="374.5,854.3 375.3,843 376.3,854.3"/></clipPath>
<path clip-path="url(#c27)" d="M374.5 839.3L376.3 837.5M374.5 845.08L376.3 843.28M374.5 850.86L376.3 849.06M374.5 856.64L376.3 854.84" stroke="#000" stroke-width="0.8" stroke-opacity="0.9" fill="none"/>
<path d="M374.5 854.3L375.3 843L376.3 854.3" fill="none" stroke="#000" stroke-width="1.5" stroke-opacity="0.85" stroke-dasharray="7.8 8.2"/>
<clipPath id="c28"><polygon points="493.7,854.3 493.7,763.6 495.8,745 497.5,738 539.2,854.3"/></clipPath>
<path clip-path="url(#c28)" d="M493.7 737.44L539.2 691.94M493.7 743.22L539.2 697.72M493.7 749L539.2 703.5M493.7 754.78L539.2 709.28M493.7 760.56L539.2 715.06M493.7 766.34L539.2 720.84M493.7 772.12L539.2 726.62M493.7 777.9L539.2 732.4M493.7 783.68L539.2 738.18M493.7 789.46L539.2 743.96M493.7 795.24L539.2 749.74M493.7 801.02L539.2 755.52M493.7 806.8L539.2 761.3M493.7 812.58L539.2 767.08M493.7 818.36L539.2 772.86M493.7 824.14L539.2 778.64M493.7 829.92L539.2 784.42M493.7 835.7L539.2 790.2M493.7 841.48L539.2 795.98M493.7 847.26L539.2 801.76M493.7 853.04L539.2 807.54M493.7 858.82L539.2 813.32M493.7 864.6L539.2 819.1M493.7 870.38L539.2 824.88M493.7 876.16L539.2 830.66M493.7 881.94L539.2 836.44M493.7 887.72L539.2 842.22M493.7 893.5L539.2 848M493.7 899.28L539.2 853.78M493.7 905.06L539.2 859.56" stroke="#000" stroke-width="0.8" stroke-opacity="0.9" fill="none"/>
<path d="M493.7 854.3L493.7 763.6L495.8 745L497.5 738" fill="none" stroke="#000" stroke-width="1.4" stroke-opacity="0.9" stroke-dasharray="7.8 8.2"/>
<path d="M410.8 666.8V854.9" stroke="#000" stroke-opacity="0.62" stroke-width="1.0" stroke-dasharray="7.9 8.2" fill="none"/>
<path d="M460.8 666.8V854.9" stroke="#000" stroke-opacity="0.62" stroke-width="1.0" stroke-dasharray="7.9 8.2" fill="none"/>
<path d="M439.4 665.8V854.9" stroke="#000" stroke-opacity="0.55" stroke-width="2.0" fill="none"/>
<path d="M372.7 770.1C373.57 770.18 375.95 769.95 377.9 770.6C379.85 771.25 382.02 772.57 384.4 774C386.78 775.43 389.62 777.82 392.2 779.2C394.78 780.58 397.32 781.57 399.9 782.3C402.48 783.03 405.62 783.7 407.7 783.6C409.78 783.5 411.32 783.08 412.4 781.7C413.48 780.32 413.6 778.75 414.2 775.3C414.8 771.85 415.35 766.4 416 761C416.65 755.6 417.32 748.93 418.1 742.9C418.88 736.87 419.83 729.98 420.7 724.8C421.57 719.62 422.23 714.18 423.3 711.8C424.37 709.42 426.03 712.23 427.1 710.5C428.17 708.77 428.83 705.07 429.7 701.4C430.57 697.73 431.43 691.95 432.3 688.5C433.17 685.05 434.03 682.52 434.9 680.7C435.77 678.88 436.63 678.12 437.5 677.6C438.37 677.08 439.02 677.08 440.1 677.6C441.18 678.12 442.07 679.1 444 680.7C445.93 682.3 448.68 685.03 451.7 687.2C454.72 689.37 458.2 691.33 462.1 693.7C466 696.07 471.22 699.17 475.1 701.4C478.98 703.63 482.6 705.67 485.4 707.1C488.2 708.53 490.17 709.52 491.9 710C493.63 710.48 494.63 710.22 495.8 710C496.97 709.78 498.38 708.92 498.9 708.7" fill="none" stroke="#000" stroke-width="1.05" stroke-opacity="0.95"/>
</g>
<path d="M332.6 476.5V665.8M539.7 476.5V665.8M332.2 476.5H540.1" fill="none" stroke="#000" stroke-width="0.9" stroke-opacity="0.72"/>
<path d="M368.88 665.8v-3.9M368.88 476.5v3.9M408.5 665.8v-3.9M408.5 476.5v3.9M448.12 665.8v-3.9M448.12 476.5v3.9M487.75 665.8v-3.9M487.75 476.5v3.9M527.38 665.8v-3.9M527.38 476.5v3.9M337.18 665.8v-2M337.18 476.5v2M345.1 665.8v-2M345.1 476.5v2M353.02 665.8v-2M353.02 476.5v2M360.95 665.8v-2M360.95 476.5v2M376.8 665.8v-2M376.8 476.5v2M384.73 665.8v-2M384.73 476.5v2M392.65 665.8v-2M392.65 476.5v2M400.57 665.8v-2M400.57 476.5v2M416.43 665.8v-2M416.43 476.5v2M424.35 665.8v-2M424.35 476.5v2M432.27 665.8v-2M432.27 476.5v2M440.2 665.8v-2M440.2 476.5v2M456.05 665.8v-2M456.05 476.5v2M463.98 665.8v-2M463.98 476.5v2M471.9 665.8v-2M471.9 476.5v2M479.83 665.8v-2M479.83 476.5v2M495.68 665.8v-2M495.68 476.5v2M503.6 665.8v-2M503.6 476.5v2M511.52 665.8v-2M511.52 476.5v2M519.45 665.8v-2M519.45 476.5v2M535.3 665.8v-2M535.3 476.5v2M332.6 618.47h3.9M539.7 618.47h-3.9M332.6 571.15h3.9M539.7 571.15h-3.9M332.6 523.83h3.9M539.7 523.83h-3.9M332.6 656.33h2M539.7 656.33h-2M332.6 646.87h2M539.7 646.87h-2M332.6 637.4h2M539.7 637.4h-2M332.6 627.94h2M539.7 627.94h-2M332.6 609.01h2M539.7 609.01h-2M332.6 599.54h2M539.7 599.54h-2M332.6 590.08h2M539.7 590.08h-2M332.6 580.62h2M539.7 580.62h-2M332.6 561.68h2M539.7 561.68h-2M332.6 552.22h2M539.7 552.22h-2M332.6 542.75h2M539.7 542.75h-2M332.6 533.29h2M539.7 533.29h-2M332.6 514.36h2M539.7 514.36h-2M332.6 504.89h2M539.7 504.89h-2M332.6 495.43h2M539.7 495.43h-2M332.6 485.97h2M539.7 485.97h-2" stroke="#000" stroke-width="0.85" stroke-opacity="0.8" fill="none"/>
<path d="M332.6 665.8V854.9M539.7 665.8V854.9M332.2 854.9H540.1" fill="none" stroke="#000" stroke-width="0.9" stroke-opacity="0.72"/>
<path d="M368.88 854.9v-3.9M368.88 665.8v3.9M408.5 854.9v-3.9M408.5 665.8v3.9M448.12 854.9v-3.9M448.12 665.8v3.9M487.75 854.9v-3.9M487.75 665.8v3.9M527.38 854.9v-3.9M527.38 665.8v3.9M337.18 854.9v-2M337.18 665.8v2M345.1 854.9v-2M345.1 665.8v2M353.02 854.9v-2M353.02 665.8v2M360.95 854.9v-2M360.95 665.8v2M376.8 854.9v-2M376.8 665.8v2M384.73 854.9v-2M384.73 665.8v2M392.65 854.9v-2M392.65 665.8v2M400.57 854.9v-2M400.57 665.8v2M416.43 854.9v-2M416.43 665.8v2M424.35 854.9v-2M424.35 665.8v2M432.27 854.9v-2M432.27 665.8v2M440.2 854.9v-2M440.2 665.8v2M456.05 854.9v-2M456.05 665.8v2M463.98 854.9v-2M463.98 665.8v2M471.9 854.9v-2M471.9 665.8v2M479.83 854.9v-2M479.83 665.8v2M495.68 854.9v-2M495.68 665.8v2M503.6 854.9v-2M503.6 665.8v2M511.52 854.9v-2M511.52 665.8v2M519.45 854.9v-2M519.45 665.8v2M535.3 854.9v-2M535.3 665.8v2M332.6 713.07h3.9M539.7 713.07h-3.9M332.6 760.35h3.9M539.7 760.35h-3.9M332.6 807.62h3.9M539.7 807.62h-3.9M332.6 840.67h2M539.7 840.67h-2M332.6 832.34h2M539.7 832.34h-2M332.6 826.44h2M539.7 826.44h-2M332.6 821.86h2M539.7 821.86h-2M332.6 818.11h2M539.7 818.11h-2M332.6 814.95h2M539.7 814.95h-2M332.6 812.21h2M539.7 812.21h-2M332.6 809.79h2M539.7 809.79h-2M332.6 793.39h2M539.7 793.39h-2M332.6 785.07h2M539.7 785.07h-2M332.6 779.16h2M539.7 779.16h-2M332.6 774.58h2M539.7 774.58h-2M332.6 770.84h2M539.7 770.84h-2M332.6 767.67h2M539.7 767.67h-2M332.6 764.93h2M539.7 764.93h-2M332.6 762.51h2M539.7 762.51h-2M332.6 746.12h2M539.7 746.12h-2M332.6 737.79h2M539.7 737.79h-2M332.6 731.89h2M539.7 731.89h-2M332.6 727.31h2M539.7 727.31h-2M332.6 723.56h2M539.7 723.56h-2M332.6 720.4h2M539.7 720.4h-2M332.6 717.66h2M539.7 717.66h-2M332.6 715.24h2M539.7 715.24h-2M332.6 698.84h2M539.7 698.84h-2M332.6 690.52h2M539.7 690.52h-2M332.6 684.61h2M539.7 684.61h-2M332.6 680.03h2M539.7 680.03h-2M332.6 676.29h2M539.7 676.29h-2M332.6 673.12h2M539.7 673.12h-2M332.6 670.38h2M539.7 670.38h-2M332.6 667.96h2M539.7 667.96h-2" stroke="#000" stroke-width="0.85" stroke-opacity="0.8" fill="none"/>
<path d="M332.1 665.8H540.2" stroke="#000" stroke-opacity="0.47" stroke-width="2.5" fill="none"/>
<text x="368.88" y="687.8" font-size="17.15" text-anchor="middle" fill="#000" >-0.5</text>
<text x="368.88" y="876.6" font-size="17.15" text-anchor="middle" fill="#000" >-0.5</text>
<text x="408.5" y="687.8" font-size="17.15" text-anchor="middle" fill="#000" >0.0</text>
<text x="408.5" y="876.6" font-size="17.15" text-anchor="middle" fill="#000" >0.0</text>
<text x="448.12" y="687.8" font-size="17.15" text-anchor="middle" fill="#000" >0.5</text>
<text x="448.12" y="876.6" font-size="17.15" text-anchor="middle" fill="#000" >0.5</text>
<text x="487.75" y="687.8" font-size="17.15" text-anchor="middle" fill="#000" >1.0</text>
<text x="487.75" y="876.6" font-size="17.15" text-anchor="middle" fill="#000" >1.0</text>
<text x="527.38" y="687.8" font-size="17.15" text-anchor="middle" fill="#000" >1.5</text>
<text x="527.38" y="876.6" font-size="17.15" text-anchor="middle" fill="#000" >1.5</text>
<text x="436.15" y="895.2" font-size="17.15" text-anchor="middle" fill="#000" >Time [hrs of day 20120306]</text>
<text x="327.9" y="664.4" font-size="17.15" text-anchor="end" fill="#000" >0</text>
<text x="327.9" y="624.27" font-size="17.15" text-anchor="end" fill="#000" >500</text>
<text x="327.9" y="576.95" font-size="17.15" text-anchor="end" fill="#000" >1000</text>
<text x="327.9" y="529.62" font-size="17.15" text-anchor="end" fill="#000" >1500</text>
<text x="327.9" y="486.4" font-size="17.15" text-anchor="end" fill="#000" >2000</text>
<text x="327.6" y="675.2" font-size="17.15" text-anchor="end">10<tspan dy="-7.0" font-size="10.3">-3</tspan></text>
<text x="327.6" y="718.67" font-size="17.15" text-anchor="end">10<tspan dy="-7.0" font-size="10.3">-4</tspan></text>
<text x="327.6" y="765.95" font-size="17.15" text-anchor="end">10<tspan dy="-7.0" font-size="10.3">-5</tspan></text>
<text x="327.6" y="813.23" font-size="17.15" text-anchor="end">10<tspan dy="-7.0" font-size="10.3">-6</tspan></text>
<text x="327.6" y="855.2" font-size="17.15" text-anchor="end">10<tspan dy="-7.0" font-size="10.3">-7</tspan></text>
<text x="342.9" y="495.3" font-size="17.15" text-anchor="start" fill="#ff0000" >&#916;E<tspan dy="4.3" font-size="10.3">free</tspan><tspan dy="-4.3" font-size="1">&#8203;</tspan>=(-301<tspan text-decoration="underline">+</tspan>10) 10<tspan dy="-7.3" font-size="10.3">30</tspan><tspan dy="7.3" font-size="1">&#8203;</tspan>erg</text>
<text x="342.9" y="514.3" font-size="17.15" text-anchor="start" fill="#0000ff" >&#916;E<tspan dy="4.3" font-size="10.3">free</tspan><tspan dy="-4.3" font-size="1">&#8203;</tspan>=(-17<tspan text-decoration="underline">+</tspan>66) 10<tspan dy="-7.3" font-size="10.3">30</tspan><tspan dy="7.3" font-size="1">&#8203;</tspan> erg</text>
<text x="342.9" y="532.3" font-size="17.15" text-anchor="start" fill="#ff0000" >q<tspan dy="4.3" font-size="10.3">pot</tspan><tspan dy="-4.3" font-size="1">&#8203;</tspan>=0.41</text>
<text x="343.2" y="845.6" font-size="17.15" text-anchor="start" fill="#000" >X5.4</text>
<text x="435.65" y="468.9" font-size="21.4" text-anchor="middle" xml:space="preserve"># 147 : 20120306</text>
<clipPath id="p29"><rect x="581.75" y="476.5" width="207.1" height="189.3"/></clipPath>
<g clip-path="url(#p29)">
<path d="M581.75 602.5L581.75 602.5L586.1 602.5L586.1 604.5L595.1 604.5L595.1 605.1L604.09 605.1L604.09 620.4L613.09 620.4L613.09 608.8L622.08 608.8L622.08 612.4L631.08 612.4L631.08 605.5L640.07 605.5L640.07 608.2L649.07 608.2L649.07 607.1L658.06 607.1L658.06 596.5L667.06 596.5L667.06 598.5L676.05 598.5L676.05 596.5L685.05 596.5L685.05 611.1L694.04 611.1L694.04 606.4L703.04 606.4L703.04 615.1L712.03 615.1L712.03 606.4L721.03 606.4L721.03 601.5L730.02 601.5L730.02 604.5L739.02 604.5L739.02 605.5L748.01 605.5L748.01 586.6L757.01 586.6L757.01 598.5L766 598.5L766 597.8L775 597.8L775 597.8L783.99 597.8L783.99 597.5L788.85 597.5" fill="none" stroke="#000" stroke-width="0.8" stroke-opacity="0.8" stroke-linejoin="miter"/>
<path d="M590.6 598.06V610.94M599.6 598.73V611.47M608.59 615.63V625.17M617.59 602.81V614.78M626.58 606.79V618.01M635.58 599.17V611.83M644.57 602.15V614.25M653.57 600.94V613.26M662.56 589.22V603.78M671.56 591.43V605.57M680.55 589.22V603.78M689.55 605.36V616.84M698.54 600.16V612.64M707.53 609.78V620.42M716.53 600.16V612.64M725.52 594.75V608.25M734.52 598.06V610.94M743.51 599.17V611.83M752.51 578.28V594.92M761.5 591.43V605.57M770.5 590.66V604.94M779.5 590.66V604.94" fill="none" stroke="#000" stroke-width="0.9" stroke-opacity="0.85"/>
<clipPath id="c30"><polygon points="671.3,665.8 671.3,598.73 671.4,598.7 681.4,601.3 691,605.8 706.9,608.4 707.9,608.2 707.9,665.8"/></clipPath>
<path clip-path="url(#c30)" d="M671.3 598.54L707.9 561.94M671.3 604.26L707.9 567.66M671.3 609.98L707.9 573.38M671.3 615.7L707.9 579.1M671.3 621.42L707.9 584.82M671.3 627.14L707.9 590.54M671.3 632.86L707.9 596.26M671.3 638.58L707.9 601.98M671.3 644.3L707.9 607.7M671.3 650.02L707.9 613.42M671.3 655.74L707.9 619.14M671.3 661.46L707.9 624.86M671.3 667.18L707.9 630.58M671.3 672.9L707.9 636.3M671.3 678.62L707.9 642.02M671.3 684.34L707.9 647.74M671.3 690.06L707.9 653.46M671.3 695.78L707.9 659.18M671.3 701.5L707.9 664.9M671.3 707.22L707.9 670.62" stroke="#0000ff" stroke-width="0.95" stroke-opacity="0.95" fill="none"/>
<path d="M581.3 604L590 604.7L599.2 605.7L612.5 609.1L625.7 609.5L644.3 607.5L657.5 603.1L671.4 598.7L681.4 601.3L691 605.8L706.9 608.4L725.4 604.7L743.6 602.1L761.6 598.5L775 597.8L789 597.4" fill="none" stroke="#0000ff" stroke-width="2.55" stroke-linejoin="round" stroke-linecap="butt"/>
<path d="M627.7 555L645.9 551.6L646.6 551.2L664 552.9L682.1 550.3L700.3 548.5L718.4 547.2L736.5 545.9L754.7 545.1" fill="none" stroke="#ff0000" stroke-width="1.0"/>
<path d="M623.1 555L627.7 550.4L632.3 555L627.7 559.6ZM641.3 551.6L645.9 547L650.5 551.6L645.9 556.2ZM642 551.2L646.6 546.6L651.2 551.2L646.6 555.8ZM659.4 552.9L664 548.3L668.6 552.9L664 557.5ZM677.5 550.3L682.1 545.7L686.7 550.3L682.1 554.9ZM695.7 548.5L700.3 543.9L704.9 548.5L700.3 553.1ZM713.8 547.2L718.4 542.6L723 547.2L718.4 551.8ZM731.9 545.9L736.5 541.3L741.1 545.9L736.5 550.5ZM750.1 545.1L754.7 540.5L759.3 545.1L754.7 549.7Z" fill="none" stroke="#ff0000" stroke-width="1.15"/>
</g>
<clipPath id="p31"><rect x="581.75" y="665.8" width="207.1" height="189.1"/></clipPath>
<g clip-path="url(#p31)">
<clipPath id="c32"><polygon points="670.7,854.3 670.2,828.4 670.7,789.5 671.3,750.7 671.8,724.8 672.8,706.6 674.4,693.7 676.4,687.2 679,689.8 681.6,696.3 683.7,704 684.7,711.8 685.8,750.7 686.3,789.5 686.8,828.4 686.8,854.3"/></clipPath>
<path clip-path="url(#c32)" d="M670.2 682.32L686.8 665.72M670.2 688.1L686.8 671.5M670.2 693.88L686.8 677.28M670.2 699.66L686.8 683.06M670.2 705.44L686.8 688.84M670.2 711.22L686.8 694.62M670.2 717L686.8 700.4M670.2 722.78L686.8 706.18M670.2 728.56L686.8 711.96M670.2 734.34L686.8 717.74M670.2 740.12L686.8 723.52M670.2 745.9L686.8 729.3M670.2 751.68L686.8 735.08M670.2 757.46L686.8 740.86M670.2 763.24L686.8 746.64M670.2 769.02L686.8 752.42M670.2 774.8L686.8 758.2M670.2 780.58L686.8 763.98M670.2 786.36L686.8 769.76M670.2 792.14L686.8 775.54M670.2 797.92L686.8 781.32M670.2 803.7L686.8 787.1M670.2 809.48L686.8 792.88M670.2 815.26L686.8 798.66M670.2 821.04L686.8 804.44M670.2 826.82L686.8 810.22M670.2 832.6L686.8 816M670.2 838.38L686.8 821.78M670.2 844.16L686.8 827.56M670.2 849.94L686.8 833.34M670.2 855.72L686.8 839.12M670.2 861.5L686.8 844.9M670.2 867.28L686.8 850.68M670.2 873.06L686.8 856.46" stroke="#000" stroke-width="0.8" stroke-opacity="0.9" fill="none"/>
<path d="M670.7 854.3L670.2 828.4L670.7 789.5L671.3 750.7L671.8 724.8L672.8 706.6L674.4 693.7L676.4 687.2L679 689.8L681.6 696.3L683.7 704L684.7 711.8L685.8 750.7L686.3 789.5L686.8 828.4L686.8 854.3" fill="none" stroke="#000" stroke-width="1.5" stroke-opacity="0.85" stroke-dasharray="7.8 8.2"/>
<path d="M671.8 666.8V854.9" stroke="#000" stroke-opacity="0.62" stroke-width="1.0" stroke-dasharray="7.9 8.2" fill="none"/>
<path d="M697.9 666.8V854.9" stroke="#000" stroke-opacity="0.62" stroke-width="1.0" stroke-dasharray="7.9 8.2" fill="none"/>
<path d="M684.7 665.8V854.9" stroke="#000" stroke-opacity="0.55" stroke-width="2.0" fill="none"/>
<path d="M627.2 688C628.93 688.95 633.72 691.55 637.6 693.7C641.48 695.85 646.62 698.75 650.5 700.9C654.38 703.05 658.08 705.13 660.9 706.6C663.72 708.07 665.47 709.13 667.4 709.7C669.33 710.27 670.78 710.3 672.5 710C674.22 709.7 675.75 708.55 677.7 707.9C679.65 707.25 681.38 706.23 684.2 706.1C687.02 705.97 691.15 706.37 694.6 707.1C698.05 707.83 701.02 708.93 704.9 710.5C708.78 712.07 713.58 714.65 717.9 716.5C722.22 718.35 726.62 720 730.8 721.6C734.98 723.2 740.97 725.35 743 726.1" fill="none" stroke="#000" stroke-width="1.05" stroke-opacity="0.95"/>
</g>
<path d="M581.75 476.5V665.8M788.85 476.5V665.8M581.35 476.5H789.25" fill="none" stroke="#000" stroke-width="0.9" stroke-opacity="0.72"/>
<path d="M618.2 665.8v-3.9M618.2 476.5v3.9M663.5 665.8v-3.9M663.5 476.5v3.9M708.8 665.8v-3.9M708.8 476.5v3.9M754.1 665.8v-3.9M754.1 476.5v3.9M591.02 665.8v-2M591.02 476.5v2M600.08 665.8v-2M600.08 476.5v2M609.14 665.8v-2M609.14 476.5v2M627.26 665.8v-2M627.26 476.5v2M636.32 665.8v-2M636.32 476.5v2M645.38 665.8v-2M645.38 476.5v2M654.44 665.8v-2M654.44 476.5v2M672.56 665.8v-2M672.56 476.5v2M681.62 665.8v-2M681.62 476.5v2M690.68 665.8v-2M690.68 476.5v2M699.74 665.8v-2M699.74 476.5v2M717.86 665.8v-2M717.86 476.5v2M726.92 665.8v-2M726.92 476.5v2M735.98 665.8v-2M735.98 476.5v2M745.04 665.8v-2M745.04 476.5v2M763.16 665.8v-2M763.16 476.5v2M772.22 665.8v-2M772.22 476.5v2M781.28 665.8v-2M781.28 476.5v2M581.75 602.7h3.9M788.85 602.7h-3.9M581.75 539.6h3.9M788.85 539.6h-3.9M581.75 653.18h2M788.85 653.18h-2M581.75 640.56h2M788.85 640.56h-2M581.75 627.94h2M788.85 627.94h-2M581.75 615.32h2M788.85 615.32h-2M581.75 590.08h2M788.85 590.08h-2M581.75 577.46h2M788.85 577.46h-2M581.75 564.84h2M788.85 564.84h-2M581.75 552.22h2M788.85 552.22h-2M581.75 526.98h2M788.85 526.98h-2M581.75 514.36h2M788.85 514.36h-2M581.75 501.74h2M788.85 501.74h-2M581.75 489.12h2M788.85 489.12h-2" stroke="#000" stroke-width="0.85" stroke-opacity="0.8" fill="none"/>
<path d="M581.75 665.8V854.9M788.85 665.8V854.9M581.35 854.9H789.25" fill="none" stroke="#000" stroke-width="0.9" stroke-opacity="0.72"/>
<path d="M618.2 854.9v-3.9M618.2 665.8v3.9M663.5 854.9v-3.9M663.5 665.8v3.9M708.8 854.9v-3.9M708.8 665.8v3.9M754.1 854.9v-3.9M754.1 665.8v3.9M591.02 854.9v-2M591.02 665.8v2M600.08 854.9v-2M600.08 665.8v2M609.14 854.9v-2M609.14 665.8v2M627.26 854.9v-2M627.26 665.8v2M636.32 854.9v-2M636.32 665.8v2M645.38 854.9v-2M645.38 665.8v2M654.44 854.9v-2M654.44 665.8v2M672.56 854.9v-2M672.56 665.8v2M681.62 854.9v-2M681.62 665.8v2M690.68 854.9v-2M690.68 665.8v2M699.74 854.9v-2M699.74 665.8v2M717.86 854.9v-2M717.86 665.8v2M726.92 854.9v-2M726.92 665.8v2M735.98 854.9v-2M735.98 665.8v2M745.04 854.9v-2M745.04 665.8v2M763.16 854.9v-2M763.16 665.8v2M772.22 854.9v-2M772.22 665.8v2M781.28 854.9v-2M781.28 665.8v2M581.75 713.07h3.9M788.85 713.07h-3.9M581.75 760.35h3.9M788.85 760.35h-3.9M581.75 807.62h3.9M788.85 807.62h-3.9M581.75 840.67h2M788.85 840.67h-2M581.75 832.34h2M788.85 832.34h-2M581.75 826.44h2M788.85 826.44h-2M581.75 821.86h2M788.85 821.86h-2M581.75 818.11h2M788.85 818.11h-2M581.75 814.95h2M788.85 814.95h-2M581.75 812.21h2M788.85 812.21h-2M581.75 809.79h2M788.85 809.79h-2M581.75 793.39h2M788.85 793.39h-2M581.75 785.07h2M788.85 785.07h-2M581.75 779.16h2M788.85 779.16h-2M581.75 774.58h2M788.85 774.58h-2M581.75 770.84h2M788.85 770.84h-2M581.75 767.67h2M788.85 767.67h-2M581.75 764.93h2M788.85 764.93h-2M581.75 762.51h2M788.85 762.51h-2M581.75 746.12h2M788.85 746.12h-2M581.75 737.79h2M788.85 737.79h-2M581.75 731.89h2M788.85 731.89h-2M581.75 727.31h2M788.85 727.31h-2M581.75 723.56h2M788.85 723.56h-2M581.75 720.4h2M788.85 720.4h-2M581.75 717.66h2M788.85 717.66h-2M581.75 715.24h2M788.85 715.24h-2M581.75 698.84h2M788.85 698.84h-2M581.75 690.52h2M788.85 690.52h-2M581.75 684.61h2M788.85 684.61h-2M581.75 680.03h2M788.85 680.03h-2M581.75 676.29h2M788.85 676.29h-2M581.75 673.12h2M788.85 673.12h-2M581.75 670.38h2M788.85 670.38h-2M581.75 667.96h2M788.85 667.96h-2" stroke="#000" stroke-width="0.85" stroke-opacity="0.8" fill="none"/>
<path d="M581.25 665.8H789.35" stroke="#000" stroke-opacity="0.47" stroke-width="2.5" fill="none"/>
<text x="618.2" y="687.8" font-size="17.15" text-anchor="middle" fill="#000" >0.5</text>
<text x="618.2" y="876.6" font-size="17.15" text-anchor="middle" fill="#000" >0.5</text>
<text x="663.5" y="687.8" font-size="17.15" text-anchor="middle" fill="#000" >1.0</text>
<text x="663.5" y="876.6" font-size="17.15" text-anchor="middle" fill="#000" >1.0</text>
<text x="708.8" y="687.8" font-size="17.15" text-anchor="middle" fill="#000" >1.5</text>
<text x="708.8" y="876.6" font-size="17.15" text-anchor="middle" fill="#000" >1.5</text>
<text x="754.1" y="687.8" font-size="17.15" text-anchor="middle" fill="#000" >2.0</text>
<text x="754.1" y="876.6" font-size="17.15" text-anchor="middle" fill="#000" >2.0</text>
<text x="685.3" y="895.2" font-size="17.15" text-anchor="middle" fill="#000" >Time [hrs of day 20120307]</text>
<text x="577.05" y="664.4" font-size="17.15" text-anchor="end" fill="#000" >0</text>
<text x="577.05" y="608.5" font-size="17.15" text-anchor="end" fill="#000" >500</text>
<text x="577.05" y="545.4" font-size="17.15" text-anchor="end" fill="#000" >1000</text>
<text x="577.05" y="486.4" font-size="17.15" text-anchor="end" fill="#000" >1500</text>
<text x="576.75" y="675.2" font-size="17.15" text-anchor="end">10<tspan dy="-7.0" font-size="10.3">-3</tspan></text>
<text x="576.75" y="718.67" font-size="17.15" text-anchor="end">10<tspan dy="-7.0" font-size="10.3">-4</tspan></text>
<text x="576.75" y="765.95" font-size="17.15" text-anchor="end">10<tspan dy="-7.0" font-size="10.3">-5</tspan></text>
<text x="576.75" y="813.23" font-size="17.15" text-anchor="end">10<tspan dy="-7.0" font-size="10.3">-6</tspan></text>
<text x="576.75" y="855.2" font-size="17.15" text-anchor="end">10<tspan dy="-7.0" font-size="10.3">-7</tspan></text>
<text x="592.05" y="495.3" font-size="17.15" text-anchor="start" fill="#ff0000" >&#916;E<tspan dy="4.3" font-size="10.3">free</tspan><tspan dy="-4.3" font-size="1">&#8203;</tspan>=(8<tspan text-decoration="underline">+</tspan>8) 10<tspan dy="-7.3" font-size="10.3">30</tspan><tspan dy="7.3" font-size="1">&#8203;</tspan>erg</text>
<text x="592.05" y="514.3" font-size="17.15" text-anchor="start" fill="#0000ff" >&#916;E<tspan dy="4.3" font-size="10.3">free</tspan><tspan dy="-4.3" font-size="1">&#8203;</tspan>=(-79<tspan text-decoration="underline">+</tspan>77) 10<tspan dy="-7.3" font-size="10.3">30</tspan><tspan dy="7.3" font-size="1">&#8203;</tspan> erg</text>
<text x="592.05" y="532.3" font-size="17.15" text-anchor="start" fill="#ff0000" >q<tspan dy="4.3" font-size="10.3">pot</tspan><tspan dy="-4.3" font-size="1">&#8203;</tspan>=0.58</text>
<text x="592.35" y="845.6" font-size="17.15" text-anchor="start" fill="#000" >X1.3</text>
<text x="684.8" y="468.9" font-size="21.4" text-anchor="middle" xml:space="preserve"># 148 : 20120307</text>
</svg>
</body></html>
